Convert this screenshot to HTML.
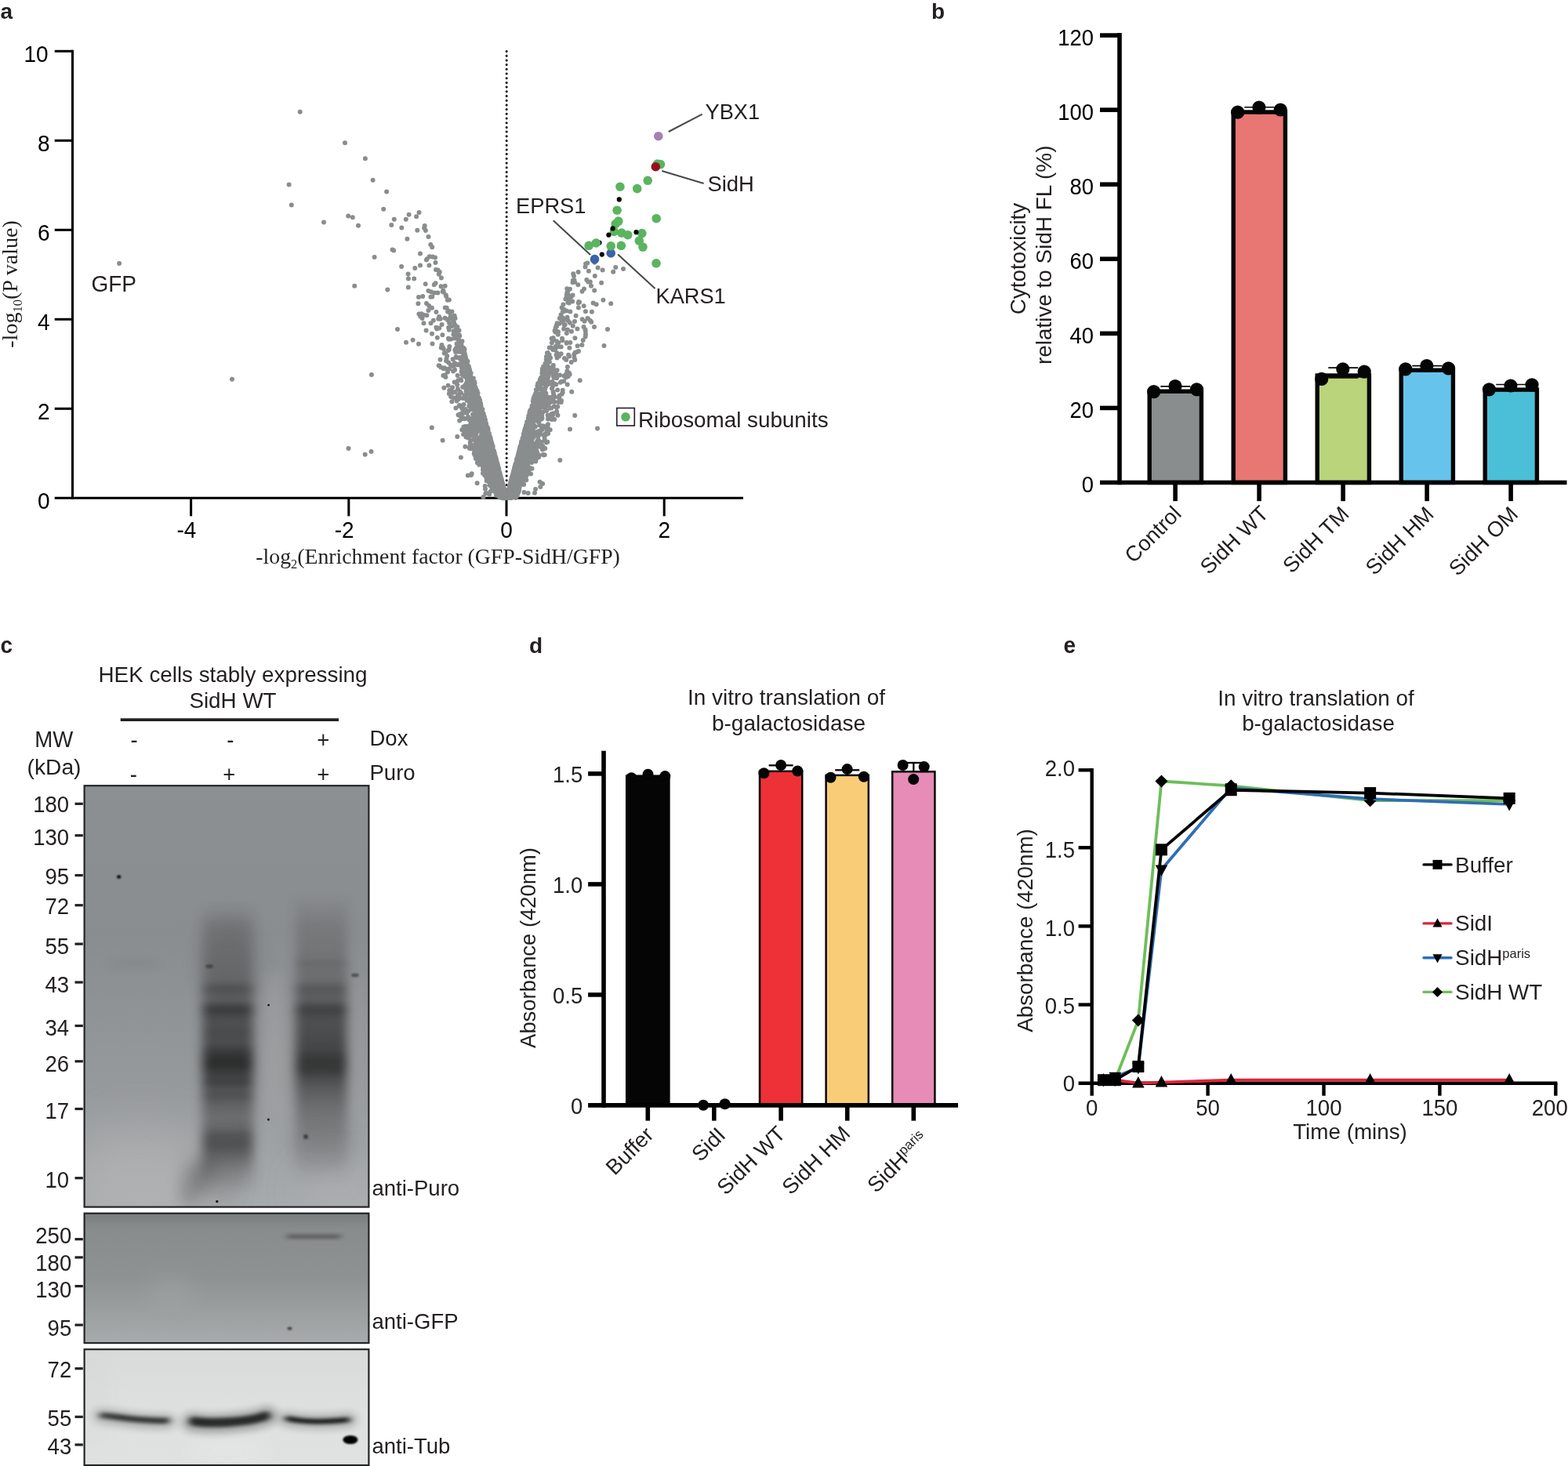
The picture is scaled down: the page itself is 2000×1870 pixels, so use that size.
<!DOCTYPE html>
<html lang="en"><head><meta charset="utf-8"><title>Figure</title>
<style>html,body{margin:0;padding:0;background:#fff}body{width:2000px;height:1870px;overflow:hidden}svg{display:block}text{font-family:"Liberation Sans", sans-serif;fill:#231f20}.sf{font-family:"Liberation Serif", serif}.b{font-weight:bold}.k{fill:#000}</style>
</head><body>
<svg width="2000" height="1870" viewBox="0 0 2000 1870">
<defs><linearGradient id="ln2" gradientUnits="userSpaceOnUse" x1="0" y1="1150" x2="0" y2="1520"><stop offset="0.0000" stop-color="#1b1b1b" stop-opacity="0.000"/><stop offset="0.0432" stop-color="#1b1b1b" stop-opacity="0.055"/><stop offset="0.0811" stop-color="#1b1b1b" stop-opacity="0.149"/><stop offset="0.1892" stop-color="#1b1b1b" stop-opacity="0.213"/><stop offset="0.2703" stop-color="#1b1b1b" stop-opacity="0.276"/><stop offset="0.2919" stop-color="#1b1b1b" stop-opacity="0.430"/><stop offset="0.3027" stop-color="#1b1b1b" stop-opacity="0.482"/><stop offset="0.3189" stop-color="#1b1b1b" stop-opacity="0.416"/><stop offset="0.3405" stop-color="#1b1b1b" stop-opacity="0.402"/><stop offset="0.3622" stop-color="#1b1b1b" stop-opacity="0.653"/><stop offset="0.3757" stop-color="#1b1b1b" stop-opacity="0.720"/><stop offset="0.3919" stop-color="#1b1b1b" stop-opacity="0.622"/><stop offset="0.4135" stop-color="#1b1b1b" stop-opacity="0.558"/><stop offset="0.4514" stop-color="#1b1b1b" stop-opacity="0.610"/><stop offset="0.4865" stop-color="#1b1b1b" stop-opacity="0.588"/><stop offset="0.5189" stop-color="#1b1b1b" stop-opacity="0.759"/><stop offset="0.5405" stop-color="#1b1b1b" stop-opacity="0.832"/><stop offset="0.5622" stop-color="#1b1b1b" stop-opacity="0.857"/><stop offset="0.5838" stop-color="#1b1b1b" stop-opacity="0.762"/><stop offset="0.6054" stop-color="#1b1b1b" stop-opacity="0.684"/><stop offset="0.6243" stop-color="#1b1b1b" stop-opacity="0.701"/><stop offset="0.6459" stop-color="#1b1b1b" stop-opacity="0.563"/><stop offset="0.6703" stop-color="#1b1b1b" stop-opacity="0.582"/><stop offset="0.6973" stop-color="#1b1b1b" stop-opacity="0.455"/><stop offset="0.7432" stop-color="#1b1b1b" stop-opacity="0.365"/><stop offset="0.7784" stop-color="#1b1b1b" stop-opacity="0.431"/><stop offset="0.8054" stop-color="#1b1b1b" stop-opacity="0.570"/><stop offset="0.8378" stop-color="#1b1b1b" stop-opacity="0.589"/><stop offset="0.8649" stop-color="#1b1b1b" stop-opacity="0.483"/><stop offset="0.8919" stop-color="#1b1b1b" stop-opacity="0.342"/><stop offset="0.9243" stop-color="#1b1b1b" stop-opacity="0.184"/><stop offset="0.9595" stop-color="#1b1b1b" stop-opacity="0.065"/><stop offset="1.0000" stop-color="#1b1b1b" stop-opacity="0.000"/></linearGradient><linearGradient id="ln3" gradientUnits="userSpaceOnUse" x1="0" y1="1140" x2="0" y2="1515"><stop offset="0.0000" stop-color="#1b1b1b" stop-opacity="0.000"/><stop offset="0.0480" stop-color="#1b1b1b" stop-opacity="0.074"/><stop offset="0.1067" stop-color="#1b1b1b" stop-opacity="0.158"/><stop offset="0.2000" stop-color="#1b1b1b" stop-opacity="0.219"/><stop offset="0.2293" stop-color="#1b1b1b" stop-opacity="0.275"/><stop offset="0.2373" stop-color="#1b1b1b" stop-opacity="0.362"/><stop offset="0.2453" stop-color="#1b1b1b" stop-opacity="0.278"/><stop offset="0.2933" stop-color="#1b1b1b" stop-opacity="0.301"/><stop offset="0.3147" stop-color="#1b1b1b" stop-opacity="0.439"/><stop offset="0.3253" stop-color="#1b1b1b" stop-opacity="0.490"/><stop offset="0.3413" stop-color="#1b1b1b" stop-opacity="0.442"/><stop offset="0.3627" stop-color="#1b1b1b" stop-opacity="0.444"/><stop offset="0.3840" stop-color="#1b1b1b" stop-opacity="0.628"/><stop offset="0.3973" stop-color="#1b1b1b" stop-opacity="0.695"/><stop offset="0.4133" stop-color="#1b1b1b" stop-opacity="0.614"/><stop offset="0.4400" stop-color="#1b1b1b" stop-opacity="0.567"/><stop offset="0.4800" stop-color="#1b1b1b" stop-opacity="0.603"/><stop offset="0.5280" stop-color="#1b1b1b" stop-opacity="0.654"/><stop offset="0.5547" stop-color="#1b1b1b" stop-opacity="0.752"/><stop offset="0.5760" stop-color="#1b1b1b" stop-opacity="0.785"/><stop offset="0.6027" stop-color="#1b1b1b" stop-opacity="0.754"/><stop offset="0.6293" stop-color="#1b1b1b" stop-opacity="0.606"/><stop offset="0.6667" stop-color="#1b1b1b" stop-opacity="0.486"/><stop offset="0.7067" stop-color="#1b1b1b" stop-opacity="0.400"/><stop offset="0.7467" stop-color="#1b1b1b" stop-opacity="0.316"/><stop offset="0.8000" stop-color="#1b1b1b" stop-opacity="0.223"/><stop offset="0.8533" stop-color="#1b1b1b" stop-opacity="0.148"/><stop offset="0.9067" stop-color="#1b1b1b" stop-opacity="0.082"/><stop offset="0.9600" stop-color="#1b1b1b" stop-opacity="0.018"/><stop offset="1.0000" stop-color="#1b1b1b" stop-opacity="0.000"/></linearGradient>
<linearGradient id="bg1" x1="0" y1="0" x2="0" y2="1">
<stop offset="0" stop-color="#8d9092"/><stop offset="0.35" stop-color="#8a8d8f"/><stop offset="0.7" stop-color="#96999b"/><stop offset="1" stop-color="#a8abad"/>
</linearGradient>
<linearGradient id="bg2" x1="0" y1="0" x2="0" y2="1">
<stop offset="0" stop-color="#868a8b"/><stop offset="0.5" stop-color="#8e9293"/><stop offset="1" stop-color="#a8abac"/>
</linearGradient>
<linearGradient id="bg3" x1="0" y1="0" x2="0" y2="1">
<stop offset="0" stop-color="#d9dbdb"/><stop offset="0.6" stop-color="#dfe1e1"/><stop offset="1" stop-color="#e0e2e2"/>
</linearGradient>
<clipPath id="c1"><rect x="107.6" y="1002.2" width="362.8" height="537.4"/></clipPath>
<clipPath id="c2"><rect x="107.6" y="1547.7" width="362.8" height="165.4"/></clipPath>
<clipPath id="c3"><rect x="107.6" y="1721.2" width="362.8" height="147.8"/></clipPath>
<filter color-interpolation-filters="sRGB" id="bl14" filterUnits="userSpaceOnUse" x="60" y="960" width="460" height="910"><feGaussianBlur stdDeviation="14"/></filter>
<filter color-interpolation-filters="sRGB" id="bl9" filterUnits="userSpaceOnUse" x="60" y="960" width="460" height="910"><feGaussianBlur stdDeviation="9 7"/></filter>
<filter color-interpolation-filters="sRGB" id="bl5" filterUnits="userSpaceOnUse" x="60" y="960" width="460" height="910"><feGaussianBlur stdDeviation="6 4"/></filter>
<filter color-interpolation-filters="sRGB" id="bl3" filterUnits="userSpaceOnUse" x="60" y="960" width="460" height="910"><feGaussianBlur stdDeviation="4 2.2"/></filter>
<filter color-interpolation-filters="sRGB" id="lane" filterUnits="userSpaceOnUse" x="60" y="960" width="460" height="910"><feGaussianBlur stdDeviation="7 2.5"/></filter>
<filter color-interpolation-filters="sRGB" id="bl1" filterUnits="userSpaceOnUse" x="60" y="960" width="460" height="910"><feGaussianBlur stdDeviation="1.2"/></filter>
<filter color-interpolation-filters="sRGB" id="bl30" filterUnits="userSpaceOnUse" x="60" y="960" width="460" height="910"><feGaussianBlur stdDeviation="30"/></filter>
</defs>
<rect width="2000" height="1870" fill="#fff"/>
<g id="pa">
<line x1="646.15" y1="65.5" x2="646.15" y2="634" stroke="#000" stroke-width="3" stroke-linecap="round" stroke-dasharray="0 5.7"/>
<line x1="92.5" y1="63.8" x2="92.5" y2="636.8" stroke="#000" stroke-width="3.05"/>
<line x1="69.7" y1="635.3" x2="948" y2="635.3" stroke="#000" stroke-width="3.05"/>
<text transform="translate(63.6 648.5) scale(1 1.05)" font-size="28" text-anchor="end" class="k">0</text>
<line x1="69.7" y1="521.3" x2="92.5" y2="521.3" stroke="#000" stroke-width="3.05"/>
<text transform="translate(63.6 534.5) scale(1 1.05)" font-size="28" text-anchor="end" class="k">2</text>
<line x1="69.7" y1="407.3" x2="92.5" y2="407.3" stroke="#000" stroke-width="3.05"/>
<text transform="translate(63.6 420.5) scale(1 1.05)" font-size="28" text-anchor="end" class="k">4</text>
<line x1="69.7" y1="293.3" x2="92.5" y2="293.3" stroke="#000" stroke-width="3.05"/>
<text transform="translate(63.6 306.5) scale(1 1.05)" font-size="28" text-anchor="end" class="k">6</text>
<line x1="69.7" y1="179.3" x2="92.5" y2="179.3" stroke="#000" stroke-width="3.05"/>
<text transform="translate(63.6 192.5) scale(1 1.05)" font-size="28" text-anchor="end" class="k">8</text>
<line x1="69.7" y1="65.3" x2="92.5" y2="65.3" stroke="#000" stroke-width="3.05"/>
<text transform="translate(61.6 78.5) scale(1 1.05)" font-size="28" text-anchor="end" class="k">10</text>
<line x1="243.6" y1="635.3" x2="243.6" y2="658.4" stroke="#000" stroke-width="3.05"/>
<text transform="translate(237.9 685.6) scale(1 1.05)" font-size="28" text-anchor="middle" class="k">-4</text>
<line x1="444.8" y1="635.3" x2="444.8" y2="658.4" stroke="#000" stroke-width="3.05"/>
<text transform="translate(439.1 685.6) scale(1 1.05)" font-size="28" text-anchor="middle" class="k">-2</text>
<line x1="646" y1="635.3" x2="646" y2="658.4" stroke="#000" stroke-width="3.05"/>
<text transform="translate(646 685.6) scale(1 1.05)" font-size="28" text-anchor="middle" class="k">0</text>
<line x1="847.2" y1="635.3" x2="847.2" y2="658.4" stroke="#000" stroke-width="3.05"/>
<text transform="translate(847.2 685.6) scale(1 1.05)" font-size="28" text-anchor="middle" class="k">2</text>
<path d="M627.2 585.8h0M632.0 610.5h0M659.2 595.8h0M723.9 468.1h0M633.1 605.9h0M635.3 601.7h0M551.5 438.6h0M635.4 620.2h0M648.4 632.5h0M627.5 603.9h0M644.1 629.7h0M662.1 596.4h0M627.2 598.7h0M662.5 584.9h0M654.0 613.0h0M670.5 577.3h0M621.3 557.8h0M695.1 519.5h0M664.0 580.4h0M604.4 544.1h0M629.1 595.5h0M660.1 602.3h0M621.9 551.1h0M643.7 635.3h0M676.9 552.1h0M679.2 541.9h0M632.5 599.2h0M665.7 599.7h0M634.7 603.5h0M708.7 482.0h0M623.4 598.3h0M587.6 484.8h0M667.2 564.6h0M653.5 609.9h0M599.4 489.3h0M723.7 490.6h0M643.7 626.5h0M683.9 507.3h0M661.3 581.5h0M634.4 618.6h0M703.9 437.2h0M714.9 487.7h0M651.3 620.3h0M672.7 567.3h0M629.1 583.6h0M669.1 554.7h0M655.1 626.8h0M600.7 475.9h0M678.3 559.8h0M632.3 606.6h0M624.5 563.2h0M636.1 601.6h0M715.7 442.5h0M570.2 454.0h0M653.6 623.0h0M618.7 619.9h0M662.0 606.6h0M641.7 621.3h0M691.6 533.3h0M608.6 570.3h0M580.3 446.3h0M689.7 563.7h0M655.3 619.9h0M653.3 609.5h0M708.7 442.1h0M549.4 378.7h0M744.7 390.3h0M623.9 569.8h0M688.4 487.5h0M665.9 574.3h0M680.3 558.1h0M655.1 622.1h0M674.2 557.3h0M668.8 587.6h0M642.7 631.9h0M641.3 617.3h0M569.5 457.8h0M595.0 464.2h0M617.5 539.1h0M620.9 608.1h0M605.3 548.5h0M556.0 344.0h0M663.2 575.8h0M655.0 631.6h0M687.9 488.2h0M632.7 586.3h0M670.9 549.4h0M698.7 529.8h0M616.0 595.7h0M654.7 607.9h0M601.5 567.9h0M687.4 532.5h0M663.1 571.4h0M758.2 370.6h0M665.3 571.7h0M665.9 610.1h0M629.4 612.6h0M636.5 625.0h0M630.0 576.7h0M584.3 485.3h0M654.1 605.1h0M652.8 609.1h0M619.8 546.1h0M644.2 630.9h0M662.5 578.1h0M642.7 626.5h0M676.6 544.0h0M644.9 632.8h0M633.6 598.9h0M689.3 484.8h0M633.0 618.6h0M633.8 610.3h0M643.4 628.4h0M640.6 616.3h0M628.9 618.6h0M647.0 632.0h0M662.8 609.2h0M652.8 620.9h0M653.1 621.5h0M746.9 397.2h0M655.3 617.5h0M658.4 611.8h0M641.5 627.1h0M632.8 595.0h0M625.7 569.4h0M583.2 490.7h0M676.0 539.2h0M636.1 599.5h0M686.3 557.4h0M746.5 340.5h0M609.5 508.1h0M633.2 601.9h0M627.3 574.2h0M654.3 605.5h0M633.3 601.2h0M632.6 604.8h0M663.5 579.6h0M621.3 587.1h0M685.4 492.2h0M643.9 631.4h0M636.6 607.6h0M661.4 584.5h0M625.7 559.1h0M635.1 610.9h0M620.7 573.0h0M597.7 470.6h0M629.3 621.2h0M655.1 611.0h0M647.4 633.9h0M622.9 591.9h0M628.4 568.6h0M667.8 560.9h0M656.4 611.9h0M671.5 572.9h0M623.3 558.6h0M659.6 585.7h0M676.2 556.7h0M585.6 504.9h0M652.7 617.5h0M598.1 488.2h0M651.6 631.7h0M651.2 619.4h0M688.4 517.5h0M645.1 633.5h0M627.6 575.6h0M612.7 576.6h0M691.9 470.6h0M598.1 483.4h0M688.2 542.3h0M620.1 549.9h0M615.3 553.6h0M682.4 504.0h0M638.5 607.9h0M641.2 631.9h0M679.4 532.2h0M640.6 634.3h0M659.7 616.3h0M668.3 591.7h0M625.6 569.9h0M631.9 610.2h0M647.4 632.4h0M648.8 629.4h0M659.1 605.2h0M644.0 628.8h0M711.3 518.8h0M722.7 437.7h0M661.8 606.4h0M664.2 604.4h0M698.3 563.7h0M660.9 584.3h0M670.7 545.7h0M666.5 559.0h0M702.1 456.5h0M582.9 430.6h0M651.8 613.9h0M723.3 473.4h0M652.5 612.1h0M621.3 580.7h0M559.6 466.3h0M669.2 556.2h0M680.3 512.8h0M654.1 623.3h0M603.0 484.8h0M636.6 606.5h0M661.5 577.8h0M635.5 603.6h0M715.5 401.5h0M650.0 626.4h0M667.3 564.1h0M632.6 599.7h0M612.0 571.5h0M658.3 590.7h0M589.3 520.9h0M610.1 565.8h0M585.5 421.5h0M660.0 602.9h0M597.4 548.8h0M624.3 561.1h0M648.7 632.8h0M663.7 599.6h0M614.0 574.5h0M668.0 578.7h0M629.0 599.4h0M630.4 600.6h0M716.2 405.0h0M636.4 616.1h0M687.0 538.5h0M633.1 595.6h0M665.8 575.4h0M562.5 365.2h0M678.4 571.7h0M697.0 564.4h0M651.5 623.7h0M583.8 465.6h0M648.6 633.9h0M677.4 565.2h0M622.8 556.9h0M607.0 517.7h0M651.5 619.1h0M678.6 560.7h0M626.2 570.3h0M653.5 613.5h0M677.3 558.2h0M614.8 536.7h0M648.9 625.3h0M658.1 616.6h0M675.5 528.0h0M692.0 496.3h0M627.3 565.2h0M620.4 594.2h0M655.5 607.6h0M644.2 630.3h0M613.8 540.5h0M637.2 608.1h0M689.9 483.5h0M653.3 625.3h0M641.6 626.1h0M600.1 572.3h0M633.1 607.2h0M634.8 599.3h0M653.9 625.6h0M641.9 629.1h0M670.5 549.5h0M642.9 632.0h0M658.2 614.4h0M682.0 628.7h0M685.1 521.3h0M598.3 479.2h0M659.9 611.4h0M660.7 606.8h0M599.2 472.2h0M655.8 603.0h0M647.0 632.9h0M678.3 560.5h0M604.7 546.3h0M656.9 600.0h0M598.8 471.1h0M619.2 560.2h0M642.2 630.6h0M659.0 597.1h0M647.2 633.7h0M676.4 551.8h0M633.6 607.6h0M720.7 414.2h0M664.1 587.4h0M652.2 622.4h0M571.1 408.3h0M641.1 616.6h0M678.8 573.4h0M643.9 631.3h0M655.4 629.2h0M655.4 630.1h0M658.4 611.8h0M663.0 585.9h0M717.8 410.7h0M626.2 572.6h0M633.5 613.6h0M653.7 616.6h0M634.5 604.0h0M651.0 622.8h0M658.8 592.4h0M638.9 610.8h0M635.3 608.2h0M566.7 450.5h0M634.1 600.3h0M614.8 529.6h0M642.7 635.2h0M649.4 630.9h0M635.7 629.8h0M668.4 556.6h0M612.3 560.2h0M702.5 489.0h0M640.0 628.1h0M665.7 565.6h0M629.9 575.5h0M565.9 372.7h0M660.3 597.6h0M654.6 609.0h0M695.6 489.3h0M630.1 603.3h0M616.7 535.5h0M651.5 634.3h0M631.0 586.8h0M657.4 605.9h0M640.2 623.6h0M574.8 403.3h0M644.1 629.9h0M675.6 543.0h0M632.6 590.8h0M603.2 550.7h0M638.2 629.9h0M591.2 443.8h0M678.1 534.7h0M663.3 583.3h0M660.3 582.5h0M647.9 633.5h0M632.4 583.9h0M623.4 572.9h0M609.2 519.1h0M607.8 502.8h0M654.3 617.6h0M673.2 553.4h0M636.0 613.6h0M639.4 615.5h0M675.8 580.7h0M680.8 511.8h0M624.1 594.6h0M606.9 502.6h0M708.1 445.9h0M642.2 628.8h0M634.4 593.2h0M661.4 614.6h0M651.8 619.9h0M596.1 548.2h0M652.5 617.3h0M684.6 497.9h0M587.5 465.8h0M622.7 570.9h0M629.8 589.7h0M656.8 614.3h0M622.2 587.0h0M653.4 610.2h0M719.2 486.2h0M653.5 608.1h0M660.4 623.3h0M635.5 609.9h0M726.4 443.7h0M642.3 623.6h0M636.0 609.0h0M730.5 376.6h0M641.2 631.8h0M640.7 616.0h0M622.4 554.6h0M667.0 566.0h0M598.7 472.9h0M636.1 608.1h0M658.8 620.1h0M664.4 591.8h0M641.6 629.3h0M601.4 497.3h0M674.5 540.4h0M658.5 620.7h0M677.8 562.6h0M657.7 601.1h0M701.1 548.6h0M659.8 604.7h0M686.9 492.6h0M580.5 406.0h0M605.0 494.7h0M655.9 597.7h0M649.3 630.8h0M652.2 612.1h0M662.3 592.2h0M625.6 584.9h0M586.8 499.8h0M621.8 546.1h0M631.9 583.1h0M608.8 502.1h0M646.8 633.8h0M631.8 598.4h0M555.5 335.0h0M728.4 378.8h0M609.2 540.8h0M592.0 506.6h0M747.0 426.4h0M674.2 560.4h0M641.4 626.5h0M628.8 602.5h0M606.8 585.1h0M697.8 460.4h0M628.5 576.2h0M662.1 576.9h0M668.6 562.3h0M671.3 606.7h0M602.4 533.8h0M671.6 578.6h0M644.9 632.8h0M643.3 631.9h0M639.7 626.5h0M645.1 634.3h0M707.2 535.0h0M619.8 589.6h0M601.6 492.1h0M632.6 623.7h0M606.3 493.7h0M533.4 387.3h0M637.0 629.0h0M659.8 603.6h0M622.0 545.6h0M625.8 608.6h0M636.9 608.9h0M667.1 562.1h0M664.7 565.8h0M619.9 575.9h0M679.0 531.6h0M632.1 623.8h0M661.9 623.6h0M669.7 608.2h0M681.2 507.0h0M675.1 533.2h0M680.3 511.3h0M632.2 606.5h0M634.5 613.8h0M576.5 397.4h0M642.4 632.8h0M666.5 574.2h0M693.8 515.5h0M697.6 549.5h0M629.5 581.2h0M715.7 512.9h0M633.5 598.6h0M674.4 549.4h0M640.0 612.9h0M629.8 576.7h0M655.6 626.1h0M604.1 499.4h0M585.0 433.1h0M658.3 623.1h0M646.6 633.8h0M702.7 506.9h0M631.2 589.5h0M629.9 594.1h0M655.1 614.7h0M619.8 604.3h0M635.4 608.1h0M626.5 594.0h0M623.6 613.2h0M656.8 624.0h0M632.4 621.2h0M655.2 618.9h0M663.8 577.7h0M683.3 521.4h0M609.1 504.1h0M654.2 623.8h0M642.8 625.2h0M603.2 549.1h0M603.1 528.4h0M660.2 599.3h0M661.6 578.3h0M677.6 525.1h0M630.2 605.6h0M719.1 419.4h0M661.2 605.4h0M571.7 446.9h0M659.3 594.6h0M615.8 568.4h0M642.5 624.7h0M651.5 620.7h0M633.3 626.8h0M694.7 467.7h0M605.9 506.4h0M674.3 601.8h0M693.8 513.9h0M655.3 600.9h0M598.1 500.0h0M641.3 619.5h0M588.3 461.4h0M664.3 569.0h0M648.5 630.9h0M634.4 591.7h0M635.5 616.4h0M606.2 569.1h0M607.7 561.3h0M663.0 575.2h0M654.1 612.2h0M749.3 335.6h0M645.0 631.4h0M608.9 513.5h0M650.4 625.7h0M654.6 621.7h0M644.9 633.6h0M696.7 458.9h0M648.7 632.4h0M634.6 591.7h0M632.9 603.0h0M622.4 577.5h0M678.4 597.8h0M644.8 630.8h0M661.5 582.2h0M581.2 448.9h0M639.7 631.9h0M723.3 373.3h0M641.4 623.1h0M613.3 517.4h0M651.9 633.1h0M629.0 578.4h0M621.7 550.0h0M643.1 631.8h0M632.9 589.6h0M680.4 510.9h0M624.7 616.9h0M615.9 537.0h0M672.3 541.5h0M663.9 580.1h0M682.3 508.9h0M677.6 527.9h0M647.4 633.2h0M607.5 511.5h0M723.0 382.0h0M597.1 531.7h0M617.8 590.7h0M692.4 512.9h0M630.5 595.6h0M651.6 621.3h0M661.9 590.3h0M663.0 593.6h0M684.3 510.3h0M652.0 620.3h0M631.2 593.4h0M663.3 597.2h0M652.6 629.1h0M671.6 543.8h0M641.3 625.9h0M669.4 561.3h0M637.4 603.5h0M633.0 592.3h0M648.1 634.4h0M584.6 429.9h0M591.8 474.2h0M605.8 500.4h0M684.7 580.3h0M687.6 537.5h0M654.3 628.7h0M699.0 541.2h0M649.3 629.2h0M637.8 607.5h0M722.9 437.1h0M591.3 476.2h0M651.1 615.8h0M604.7 555.5h0M667.6 617.1h0M569.8 392.8h0M681.2 554.4h0M660.7 614.2h0M676.3 525.6h0M664.0 587.2h0M629.9 579.9h0M630.0 595.1h0M588.6 473.9h0M623.8 554.2h0M596.9 544.0h0M641.7 626.7h0M629.8 582.7h0M622.2 567.3h0M559.8 349.7h0M675.5 570.1h0M737.9 392.4h0M641.4 622.9h0M536.0 323.5h0M632.7 584.8h0M630.7 605.3h0M658.8 633.2h0M653.5 607.5h0M627.5 568.2h0M670.1 585.7h0M655.9 597.4h0M665.0 563.8h0M641.7 629.3h0M572.5 407.1h0M638.4 630.7h0M705.6 431.0h0M591.0 533.2h0M618.0 557.5h0M620.0 557.8h0M616.6 541.4h0M616.0 603.7h0M630.9 627.1h0M633.2 611.4h0M637.1 611.1h0M659.4 586.5h0M635.3 598.6h0M635.3 618.6h0M638.6 619.3h0M623.4 561.4h0M624.5 560.6h0M659.0 628.6h0M629.4 589.9h0M690.0 549.2h0M658.8 621.7h0M624.4 567.9h0M635.4 598.2h0M613.6 571.3h0M677.6 528.1h0M639.2 612.2h0M650.8 627.2h0M619.2 599.0h0M620.1 541.6h0M639.1 629.8h0M760.7 388.3h0M668.9 609.0h0M625.0 601.4h0M681.3 509.5h0M636.2 618.8h0M630.2 617.7h0M609.7 532.5h0M646.3 634.8h0M652.1 612.5h0M664.6 605.0h0M623.0 554.7h0M660.0 622.6h0M634.0 626.7h0M650.5 621.1h0M619.7 552.3h0M627.7 602.4h0M629.5 591.3h0M694.3 519.1h0M665.9 566.9h0M638.7 614.8h0M663.4 603.2h0M668.8 575.0h0M614.5 581.1h0M614.2 562.8h0M626.6 577.2h0M610.8 536.3h0M631.4 589.3h0M623.0 602.6h0M620.0 539.9h0M653.2 623.6h0M643.0 625.6h0M677.1 573.3h0M643.9 631.4h0M662.1 586.7h0M696.9 455.0h0M650.4 630.2h0M632.5 596.1h0M641.0 624.6h0M678.6 520.7h0M665.5 563.7h0M638.7 623.6h0M618.3 534.1h0M604.5 513.4h0M686.6 493.9h0M726.9 368.8h0M678.5 518.3h0M597.2 492.7h0M654.4 612.5h0M648.5 629.8h0M623.4 608.7h0M638.2 608.4h0M651.3 634.6h0M687.1 527.2h0M728.7 462.1h0M651.7 625.1h0M620.4 547.4h0M649.4 624.3h0M600.1 503.0h0M629.0 600.1h0M648.0 635.3h0M640.5 631.4h0M634.4 591.6h0M639.7 614.2h0M642.3 630.5h0M654.5 626.3h0M657.7 611.5h0M711.2 439.3h0M677.0 581.7h0M647.5 632.2h0M651.6 626.7h0M683.1 533.2h0M641.4 632.6h0M642.2 625.4h0M579.9 462.9h0M630.6 577.5h0M655.5 624.3h0M651.3 623.7h0M638.3 628.1h0M640.5 615.8h0M601.5 485.1h0M647.5 629.9h0M670.7 556.0h0M633.7 627.5h0M644.0 628.9h0M621.2 563.5h0M693.3 513.4h0M615.8 535.9h0M677.9 524.8h0M638.4 623.6h0M674.4 567.6h0M647.1 635.0h0M657.3 594.7h0M648.3 632.5h0M663.7 570.0h0M617.5 531.0h0M622.1 556.1h0M672.7 562.8h0M637.5 619.2h0M650.8 630.8h0M611.0 512.1h0M662.3 573.9h0M636.6 621.4h0M737.6 347.1h0M598.4 549.6h0M610.3 562.2h0M677.8 551.5h0M642.6 628.1h0M628.0 612.5h0M603.8 502.5h0M641.4 621.4h0M638.3 607.7h0M649.6 622.0h0M663.3 585.4h0M622.9 579.9h0M647.3 634.1h0M709.0 476.4h0M650.3 623.9h0M643.1 630.2h0M637.1 602.4h0M652.6 635.0h0M614.3 545.1h0M659.4 589.3h0M653.4 634.3h0M658.8 612.2h0M623.9 562.2h0M650.3 628.7h0M664.4 578.0h0M641.9 620.9h0M669.7 558.6h0M606.0 519.5h0M671.6 597.3h0M594.5 499.5h0M653.0 612.4h0M667.0 566.9h0M619.6 543.2h0M667.9 560.3h0M554.2 373.6h0M536.0 338.6h0M620.6 568.5h0M636.8 606.8h0M658.1 599.3h0M601.0 535.6h0M708.9 417.6h0M646.6 634.5h0M652.5 631.9h0M617.8 531.4h0M561.5 458.7h0M657.8 596.3h0M653.1 614.0h0M658.2 595.2h0M617.3 546.7h0M618.0 590.0h0M652.0 617.5h0M655.5 619.4h0M531.1 276.2h0M639.5 629.6h0M612.3 525.4h0M644.7 631.8h0M634.7 627.2h0M614.0 573.5h0M658.6 599.6h0M605.7 516.0h0M694.0 497.4h0M543.6 421.5h0M635.7 615.0h0M682.8 527.9h0M654.0 626.6h0M647.0 632.7h0M657.8 606.7h0M652.4 624.6h0M683.1 623.9h0M691.4 518.9h0M688.4 549.4h0M687.8 522.4h0M673.2 584.7h0M594.6 478.6h0M611.5 526.0h0M603.9 502.1h0M655.4 611.9h0M608.4 529.9h0M667.8 564.5h0M636.4 606.0h0M609.2 519.4h0M642.4 624.2h0M687.1 488.4h0M650.1 630.1h0M669.5 584.3h0M644.0 628.3h0M618.9 537.2h0M683.2 582.2h0M604.0 537.2h0M667.1 574.5h0M735.6 448.9h0M669.8 548.0h0M677.6 588.1h0M663.7 592.0h0M595.6 483.8h0M607.1 546.8h0M620.2 552.7h0M598.8 513.1h0M627.6 588.8h0M669.0 549.7h0M641.1 624.6h0M641.8 628.6h0M665.1 578.0h0M623.6 552.8h0M611.1 592.7h0M594.3 476.6h0M596.4 486.3h0M645.4 633.0h0M636.3 617.6h0M640.8 624.7h0M619.5 542.9h0M651.6 632.2h0M694.5 557.5h0M654.7 621.4h0M630.8 580.1h0M652.6 630.9h0M581.7 419.9h0M641.3 623.4h0M625.6 583.1h0M710.6 472.2h0M671.6 606.3h0M585.8 442.2h0M634.2 607.2h0M626.2 588.6h0M546.4 395.9h0M678.0 532.0h0M657.5 603.0h0M603.9 533.1h0M653.1 615.3h0M706.0 433.1h0M627.4 608.3h0M698.8 450.0h0M653.3 634.2h0M662.7 595.6h0M613.5 582.4h0M619.5 552.7h0M667.9 554.7h0M646.9 634.6h0M596.5 465.8h0M654.1 605.1h0M637.0 606.6h0M616.4 574.6h0M642.7 622.9h0M579.7 402.8h0M626.3 593.6h0M639.6 621.5h0M647.4 632.9h0M617.2 535.4h0M608.4 500.5h0M609.5 512.9h0M638.6 623.4h0M534.0 379.0h0M689.0 489.3h0M644.3 629.6h0M658.9 589.6h0M637.8 634.5h0M651.0 634.0h0M645.3 633.1h0M623.9 558.6h0M671.5 569.3h0M644.5 633.6h0M662.3 582.1h0M654.4 615.8h0M638.4 607.1h0M636.5 610.5h0M700.3 468.5h0M700.6 507.7h0M680.8 552.3h0M579.9 422.7h0M655.9 624.1h0M654.5 605.6h0M617.0 577.3h0M655.1 614.2h0M700.1 487.0h0M630.7 583.0h0M648.5 630.0h0M657.9 615.7h0M698.5 544.7h0M628.3 588.4h0M622.0 568.7h0M626.9 568.7h0M618.3 606.2h0M640.0 634.3h0M674.1 580.1h0M679.2 526.1h0M670.7 586.3h0M641.0 631.5h0M642.8 628.0h0M626.2 561.8h0M659.6 613.0h0M726.9 411.7h0M681.2 506.2h0M658.7 608.7h0M613.6 591.8h0M677.8 524.2h0M604.0 519.4h0M716.6 408.9h0M606.3 544.2h0M698.7 490.2h0M651.4 619.9h0M607.6 499.1h0M611.0 539.1h0M652.7 627.8h0M636.5 610.3h0M642.9 626.4h0M625.5 570.4h0M638.1 616.9h0M642.5 629.6h0M693.7 543.5h0M726.1 454.6h0M679.5 558.2h0M630.5 584.3h0M651.0 624.2h0M666.7 564.0h0M662.2 609.4h0M672.8 571.4h0M651.7 635.2h0M641.2 617.5h0M678.7 537.0h0M665.9 587.1h0M593.4 569.8h0M601.5 497.5h0M662.9 576.6h0M638.0 621.2h0M662.6 578.1h0M635.1 597.8h0M668.5 587.8h0M665.8 598.4h0M684.0 512.7h0M691.2 532.0h0M659.2 630.5h0M676.1 550.0h0M653.5 607.1h0M639.8 631.1h0M745.0 368.5h0M631.2 583.4h0M591.6 466.4h0M620.7 548.3h0M611.7 572.8h0M670.1 564.5h0M733.0 410.1h0M708.6 423.7h0M693.5 580.5h0M630.5 598.4h0M692.1 617.0h0M660.0 597.6h0M642.8 627.4h0M655.3 629.5h0M657.3 615.1h0M620.6 549.5h0M566.9 469.2h0M691.2 546.8h0M570.8 382.7h0M682.3 506.6h0M648.5 626.3h0M685.6 534.3h0M612.2 510.7h0M679.4 578.5h0M674.2 559.9h0M730.5 360.3h0M682.4 506.8h0M623.4 557.6h0M698.4 470.1h0M626.0 577.5h0M704.0 495.5h0M587.0 518.0h0M560.5 466.6h0M638.5 623.1h0M629.7 605.0h0M668.1 561.0h0M633.6 594.7h0M686.4 555.1h0M642.0 620.2h0M562.3 468.6h0M639.0 615.7h0M699.1 553.0h0M662.1 575.9h0M636.4 600.8h0M609.5 501.5h0M654.1 619.6h0M641.7 619.9h0M754.9 397.8h0M630.6 585.3h0M669.7 548.5h0M668.8 556.7h0M585.1 442.2h0M586.1 457.0h0M645.3 634.2h0M621.6 586.2h0M630.0 591.2h0M638.2 627.7h0M677.9 568.8h0M572.9 502.2h0M678.7 565.2h0M654.7 609.6h0M657.7 593.0h0M742.4 440.0h0M633.6 618.0h0M717.6 405.3h0M615.3 538.6h0M549.5 412.3h0M637.9 628.9h0M621.6 555.5h0M675.1 555.8h0M642.3 622.5h0M630.4 577.8h0M671.8 553.1h0M646.9 631.9h0M671.3 588.8h0M572.1 462.6h0M642.5 628.4h0M680.8 544.9h0M675.2 544.4h0M658.6 621.1h0M649.3 630.1h0M582.7 511.6h0M644.3 633.8h0M634.5 609.5h0M593.4 458.7h0M669.3 549.6h0M631.3 581.1h0M674.2 559.3h0M594.4 557.6h0M694.7 562.3h0M695.8 492.6h0M648.1 635.1h0M634.7 604.7h0M648.6 632.0h0M640.8 635.3h0M725.7 386.5h0M654.4 615.9h0M656.0 604.4h0M560.8 347.0h0M613.1 571.6h0M653.0 616.9h0M660.1 613.7h0M656.1 621.2h0M595.5 510.7h0M691.3 515.8h0M592.1 448.1h0M722.0 477.5h0M654.9 612.7h0M625.6 571.8h0M631.3 597.7h0M681.6 566.3h0M649.5 627.6h0M651.2 627.2h0M652.6 629.8h0M661.4 590.4h0M520.8 366.4h0M593.9 472.6h0M616.5 634.0h0M644.1 628.4h0M591.4 544.4h0M694.9 519.9h0M674.6 533.0h0M704.6 432.7h0M745.6 409.7h0M629.9 578.5h0M624.0 556.8h0M671.7 542.5h0M652.0 616.2h0M668.1 561.9h0M671.4 567.2h0M631.0 589.8h0M639.3 634.0h0M673.8 577.8h0M642.9 623.4h0M606.7 562.1h0M680.6 549.7h0M650.2 628.0h0M651.4 623.0h0M659.2 605.7h0M611.9 517.9h0M651.5 633.4h0M588.4 446.5h0M655.9 602.7h0M651.1 617.2h0M651.2 616.2h0M555.0 328.6h0M595.1 496.8h0M687.6 580.8h0M649.0 632.1h0M671.6 572.1h0M648.6 632.8h0M642.4 628.0h0M621.6 590.4h0M651.7 626.7h0M664.6 590.6h0M629.6 614.6h0M663.1 571.7h0M656.9 600.0h0M734.6 402.8h0M709.6 478.9h0M661.1 583.3h0M651.1 628.8h0M612.6 581.8h0M651.9 612.5h0M661.7 598.2h0M641.7 629.1h0M634.3 590.8h0M546.4 371.0h0M711.9 442.3h0M604.1 533.4h0M657.2 622.9h0M639.1 613.3h0M638.5 608.2h0M641.8 619.9h0M599.9 489.2h0M691.0 545.3h0M642.2 630.6h0M661.8 576.6h0M668.7 564.9h0M610.7 535.0h0M657.7 601.9h0M564.4 427.2h0M668.5 571.0h0M562.9 354.5h0M586.2 428.5h0M659.8 587.7h0M681.2 530.8h0M603.7 536.0h0M595.3 555.2h0M618.8 537.0h0M666.3 562.4h0M636.8 627.2h0M656.5 629.7h0M679.9 525.4h0M621.3 546.6h0M646.9 634.3h0M637.9 623.0h0M648.6 626.3h0M591.5 475.7h0M688.1 508.3h0M651.2 634.7h0M609.8 541.3h0M610.9 527.1h0M746.6 429.6h0M651.8 628.8h0M700.3 530.0h0M652.1 619.7h0M608.8 538.3h0M628.3 576.1h0M651.2 621.6h0M624.3 560.1h0M658.1 606.6h0M642.5 634.8h0M633.9 605.7h0M659.8 600.0h0M672.3 544.4h0M592.7 504.3h0M600.3 480.5h0M609.2 529.7h0M635.5 603.0h0M610.8 517.4h0M683.7 506.3h0M703.3 512.5h0M640.0 621.1h0M655.8 599.8h0M681.2 507.6h0M621.9 550.1h0M685.4 510.7h0M649.3 626.5h0M630.1 603.0h0M650.4 628.8h0M622.7 554.7h0M623.0 570.0h0M700.0 515.0h0M659.3 612.5h0M658.7 590.0h0M652.2 622.5h0M594.3 466.5h0M639.5 612.4h0M672.0 541.6h0M635.6 599.0h0M625.2 593.4h0M660.3 583.5h0M625.9 577.5h0M593.7 465.0h0M655.5 618.7h0M678.3 527.3h0M588.9 435.9h0M643.2 635.2h0M616.6 561.2h0M649.2 633.4h0M676.1 540.9h0M631.3 583.9h0M626.9 599.3h0M617.4 547.8h0M635.3 610.0h0M660.6 625.3h0M653.4 610.4h0M636.5 604.5h0M679.9 565.4h0M636.0 631.1h0M657.4 600.4h0M572.5 432.8h0M627.1 578.5h0M634.8 600.1h0M688.4 515.9h0M695.1 496.6h0M668.8 557.7h0M616.7 531.4h0M612.5 514.7h0M706.4 444.8h0M670.6 570.4h0M580.1 464.6h0M682.6 536.3h0M683.4 530.3h0M611.5 519.3h0M664.4 576.7h0M671.1 576.4h0M652.4 613.1h0M673.6 629.0h0M666.0 574.1h0M596.7 500.4h0M638.1 614.3h0M618.9 550.5h0M681.2 511.9h0M671.2 553.4h0M647.1 631.7h0M645.0 634.4h0M637.9 630.4h0M529.3 342.0h0M630.1 614.8h0M648.4 626.4h0M657.6 611.5h0M581.8 443.9h0M659.5 585.1h0M653.2 614.1h0M587.9 583.4h0M628.7 570.2h0M652.6 611.9h0M651.4 621.4h0M628.6 615.8h0M663.3 586.7h0M585.9 427.5h0M645.6 634.1h0M650.7 619.5h0M661.8 603.5h0M626.6 570.7h0M650.3 630.1h0M642.1 633.6h0M662.2 583.0h0M639.3 632.8h0M683.8 517.5h0M672.2 591.7h0M692.3 477.3h0M654.9 613.4h0M682.8 520.5h0M661.6 607.9h0M626.4 620.1h0M652.9 618.4h0M684.8 506.1h0M633.7 594.5h0M642.7 629.8h0M608.7 513.6h0M629.0 615.0h0M685.4 505.2h0M673.8 559.3h0M652.0 627.7h0M664.4 605.5h0M653.5 609.1h0M662.8 618.1h0M687.3 582.9h0M598.9 513.4h0M652.5 629.8h0M635.5 597.7h0M684.6 517.3h0M598.2 558.8h0M653.9 613.2h0M633.6 611.8h0M628.9 591.2h0M603.2 505.4h0M719.4 394.7h0M646.6 633.6h0M629.8 612.0h0M635.9 620.8h0M667.9 554.2h0M661.0 615.9h0M621.3 546.3h0M637.8 610.9h0M595.7 508.4h0M654.3 618.5h0M654.7 615.8h0M690.9 502.9h0M652.5 626.1h0M595.6 550.5h0M636.7 608.8h0M661.1 579.9h0M613.7 530.0h0M654.0 610.0h0M643.2 627.2h0M624.7 568.7h0M670.1 587.1h0M622.7 575.2h0M605.2 508.7h0M643.6 627.0h0M648.3 631.8h0M653.2 608.6h0M622.6 603.7h0M659.1 616.8h0M650.4 621.1h0M622.4 629.3h0M645.8 635.3h0M654.3 609.3h0M710.1 482.2h0M690.8 528.2h0M648.7 626.2h0M637.0 617.7h0M627.2 608.8h0M632.3 605.6h0M624.8 599.5h0M631.8 597.4h0M665.2 601.7h0M650.0 628.3h0M599.9 487.5h0M694.4 498.3h0M608.2 527.1h0M624.4 565.6h0M549.9 372.2h0M665.7 614.9h0M664.8 576.8h0M600.6 561.7h0M650.5 630.7h0M638.8 613.7h0M640.9 623.5h0M615.9 557.3h0M682.8 553.2h0M632.4 621.6h0M608.0 499.9h0M614.9 548.3h0M667.4 583.8h0M627.0 601.4h0M614.9 545.2h0M616.2 526.9h0M676.4 597.0h0M663.0 581.5h0M659.1 624.0h0M715.7 451.3h0M676.2 580.6h0M651.1 615.9h0M599.7 565.4h0M572.7 446.1h0M666.6 604.9h0M637.0 602.3h0M626.1 578.8h0M609.0 524.3h0M640.1 615.4h0M651.0 616.2h0M738.2 384.9h0M665.9 566.6h0M664.0 580.2h0M631.8 613.8h0M603.3 486.5h0M622.3 589.0h0M650.1 625.8h0M578.4 409.9h0M626.1 597.1h0M632.5 620.3h0M630.1 578.9h0M608.4 501.5h0M630.5 578.8h0M600.4 555.2h0M581.7 455.1h0M658.5 624.2h0M677.3 544.6h0M640.2 615.3h0M606.5 516.7h0M673.7 565.1h0M641.4 634.0h0M674.2 568.0h0M636.8 615.5h0M641.1 630.6h0M657.6 627.5h0M665.6 564.0h0M613.5 517.7h0M654.6 602.8h0M654.4 631.4h0M674.6 545.2h0M619.4 548.1h0M601.4 506.0h0M649.4 627.3h0M700.6 452.4h0M616.0 545.2h0M615.4 535.7h0M605.0 486.7h0M650.0 627.9h0M629.3 576.7h0M639.4 612.9h0M649.1 625.6h0M615.3 532.8h0M619.6 543.1h0M605.5 544.2h0M617.0 538.7h0M632.5 605.9h0M614.8 557.9h0M668.2 553.6h0M681.7 509.6h0M528.2 355.4h0M638.0 622.1h0M681.4 506.4h0M655.3 628.3h0M690.9 485.2h0M640.2 618.9h0M652.5 621.5h0M639.8 625.6h0M622.6 549.8h0M626.4 563.3h0M669.8 546.9h0M652.2 612.3h0M713.7 504.4h0M605.5 494.4h0M579.7 487.4h0M633.4 590.7h0M635.6 596.6h0M666.7 560.0h0M627.1 577.4h0M688.0 518.3h0M659.6 625.0h0M638.1 625.0h0M649.9 622.8h0M648.3 630.6h0M651.5 619.8h0M665.6 585.5h0M680.0 552.0h0M631.2 587.2h0M660.3 625.5h0M648.5 628.4h0M624.1 567.9h0M618.3 547.5h0M583.9 495.9h0M654.1 620.6h0M620.7 594.8h0M674.3 537.5h0M586.4 508.0h0M661.5 621.2h0M673.4 571.3h0M623.6 584.4h0M689.4 524.7h0M664.9 578.0h0M624.8 591.1h0M622.3 553.2h0M664.2 578.6h0M668.5 566.1h0M624.6 570.5h0M621.3 550.3h0M584.8 509.0h0M666.1 568.6h0M656.6 615.2h0M680.8 514.1h0M654.9 619.5h0M639.3 619.1h0M634.8 606.0h0M634.5 619.3h0M628.8 597.6h0M635.3 599.8h0M639.1 634.3h0M640.1 618.0h0M659.9 631.2h0M638.3 615.7h0M653.2 627.7h0M687.6 491.7h0M649.6 622.4h0M701.7 474.7h0M608.1 498.2h0M611.5 531.9h0M571.0 474.6h0M633.8 602.6h0M673.5 565.9h0M623.2 575.7h0M650.9 623.1h0M658.6 590.3h0M631.9 599.2h0M695.5 504.9h0M566.3 494.8h0M659.7 618.4h0M659.0 587.4h0M657.9 595.8h0M648.5 631.1h0M671.0 543.2h0M653.0 612.0h0M600.1 492.8h0M653.5 609.2h0M644.4 633.9h0M670.7 608.5h0M637.8 627.6h0M644.6 630.5h0M640.8 624.1h0M653.5 613.7h0M684.4 584.8h0M539.2 378.0h0M683.3 507.6h0M683.8 497.3h0M640.1 622.3h0M635.9 601.0h0M657.9 595.2h0M660.2 584.7h0M652.8 633.7h0M606.9 495.4h0M692.6 485.2h0M633.9 592.0h0M622.3 552.6h0M653.8 619.5h0M669.8 560.6h0M652.0 632.9h0M590.2 478.5h0M637.0 607.6h0M651.6 631.5h0M618.4 603.2h0M644.5 635.0h0M639.3 626.3h0M737.3 363.3h0M622.6 572.1h0M635.7 604.6h0M636.6 608.5h0M643.8 630.4h0M663.4 593.2h0M610.1 568.0h0M621.5 554.8h0M629.1 603.9h0M640.2 618.9h0M667.2 570.4h0M659.3 587.7h0M617.4 535.1h0M619.3 547.9h0M717.7 497.8h0M591.8 450.8h0M560.2 418.5h0M632.6 588.0h0M589.1 519.3h0M683.5 518.9h0M686.0 491.9h0M647.9 632.6h0M593.6 544.1h0M650.6 618.9h0M624.6 574.3h0M624.3 570.2h0M613.7 538.1h0M638.1 606.1h0M668.2 580.6h0M626.2 586.3h0M677.4 551.3h0M642.5 633.3h0M674.6 565.0h0M632.4 628.6h0M575.1 505.9h0M657.1 607.9h0M613.6 566.6h0M649.0 633.7h0M650.8 630.4h0M599.1 486.3h0M668.3 569.2h0M588.6 441.3h0M672.0 566.4h0M564.6 561.7h0M647.2 635.0h0M599.3 499.2h0M680.4 511.7h0M633.9 598.0h0M653.3 611.1h0M656.9 599.5h0M667.8 596.0h0M607.6 550.4h0M631.8 601.6h0M656.2 607.9h0M653.5 625.7h0M655.4 620.4h0M651.2 621.9h0M620.0 550.8h0M654.6 616.0h0M631.7 619.4h0M630.2 582.4h0M667.9 573.0h0M636.6 610.1h0M608.9 526.2h0M689.5 554.1h0M635.6 630.5h0M636.3 612.8h0M655.4 621.7h0M621.9 545.8h0M666.7 579.2h0M652.3 611.4h0M619.0 540.6h0M675.1 565.8h0M698.2 466.8h0M602.2 571.1h0M648.8 630.6h0M650.4 634.2h0M574.7 465.3h0M602.2 521.4h0M620.4 609.6h0M670.9 551.6h0M565.8 470.3h0M631.5 602.0h0M634.6 606.0h0M675.9 568.2h0M608.5 521.4h0M695.0 481.6h0M621.0 598.0h0M563.5 440.0h0M630.3 577.0h0M641.2 631.2h0M640.8 631.3h0M663.2 574.3h0M641.8 634.6h0M644.5 632.8h0M657.3 618.6h0M672.4 551.7h0M621.6 554.3h0M621.2 565.0h0M670.9 543.3h0M640.6 617.3h0M631.4 583.9h0M637.1 613.1h0M595.1 479.0h0M702.8 443.3h0M631.4 597.1h0M634.5 604.7h0M534.4 400.5h0M640.8 623.5h0M699.4 477.9h0M639.8 614.2h0M627.9 591.0h0M623.1 614.3h0M656.8 596.4h0M632.7 598.7h0M626.2 586.5h0M643.8 633.7h0M637.3 624.8h0M624.0 584.8h0M651.2 630.9h0M632.8 627.0h0M619.2 542.2h0M650.0 629.7h0M621.1 578.7h0M625.9 569.3h0M627.1 564.7h0M684.6 531.0h0M731.9 352.0h0M688.7 513.4h0M637.2 608.7h0M687.3 532.6h0M636.2 608.1h0M692.8 489.4h0M668.5 627.9h0M635.3 595.6h0M584.1 464.8h0M647.8 628.8h0M640.2 626.8h0M640.3 632.6h0M670.9 560.7h0M639.6 611.6h0M642.0 631.9h0M583.3 557.0h0M667.7 567.7h0M679.1 547.1h0M605.1 489.8h0M667.1 573.7h0M609.9 508.9h0M618.0 532.6h0M551.3 378.4h0M632.2 589.0h0M654.1 605.3h0M658.1 595.8h0M632.7 593.6h0M613.2 515.1h0M721.4 381.6h0M704.9 528.1h0M638.9 622.3h0M692.9 573.1h0M652.8 610.0h0M643.9 633.1h0M717.6 500.7h0M670.4 571.5h0M626.5 563.3h0M617.3 540.6h0M653.3 609.8h0M613.9 544.2h0M637.2 615.8h0M653.2 632.1h0M669.4 551.3h0M668.1 617.9h0M695.9 509.4h0M659.0 597.8h0M650.9 633.7h0M674.9 540.9h0M637.3 612.7h0M641.0 627.1h0M638.7 609.5h0M648.3 634.0h0M648.4 628.4h0M624.0 561.4h0M655.0 606.0h0M746.5 420.4h0M642.2 621.1h0M671.1 573.8h0M642.0 632.1h0M658.1 594.2h0M619.0 623.8h0M632.2 627.4h0M647.9 632.8h0M639.7 614.0h0M659.6 587.4h0M666.3 591.7h0M638.4 607.4h0M694.6 501.6h0M612.5 557.8h0M696.3 492.9h0M650.4 630.0h0M609.4 506.0h0M649.2 632.3h0M650.8 628.5h0M683.3 588.4h0M652.5 615.3h0M711.4 529.8h0M663.3 575.7h0M742.5 371.8h0M628.3 568.7h0M616.8 527.9h0M626.6 567.5h0M592.5 445.5h0M694.7 580.3h0M568.2 450.3h0M705.6 468.8h0M725.1 452.8h0M660.4 612.6h0M649.0 626.2h0M631.5 602.0h0M641.5 625.3h0M630.9 599.6h0M637.3 615.0h0M644.5 631.8h0M611.5 539.1h0M642.0 633.9h0M559.2 406.7h0M659.0 603.2h0M627.4 591.2h0M651.4 628.0h0M657.2 599.8h0M662.7 577.8h0M650.7 623.9h0M670.9 543.8h0M638.2 632.8h0M641.7 620.9h0M632.0 620.8h0M693.5 479.5h0M619.7 550.4h0M658.9 615.2h0M688.9 506.2h0M748.3 357.0h0M568.4 481.1h0M657.8 597.0h0M631.8 611.2h0M670.6 570.7h0M589.5 477.6h0M653.9 615.0h0M640.3 615.3h0M639.9 621.3h0M640.1 622.6h0M637.7 613.7h0M614.6 521.7h0M642.8 629.2h0M639.8 630.4h0M663.1 595.9h0M683.8 509.8h0M620.4 549.2h0M736.6 441.2h0M640.8 615.8h0M611.4 514.4h0M655.8 613.8h0M658.6 589.9h0M737.7 386.5h0M647.0 634.9h0M632.6 598.4h0M663.4 603.9h0M706.3 489.1h0M631.5 586.3h0M703.2 520.6h0M701.6 533.9h0M640.3 615.0h0M663.9 576.8h0M616.0 599.3h0M642.6 634.0h0M638.3 625.5h0M602.1 485.2h0M647.5 630.1h0M671.7 590.1h0M685.2 562.7h0M544.0 387.1h0M752.9 409.1h0M593.4 522.1h0M700.6 443.5h0M569.2 378.0h0M669.0 595.2h0M641.8 622.6h0M677.7 586.0h0M643.6 633.6h0M644.7 631.4h0M659.9 612.1h0M655.6 606.1h0M656.1 625.9h0M627.4 617.0h0M659.9 619.2h0M657.4 613.4h0M665.8 571.7h0M730.8 415.7h0M626.4 614.2h0M598.3 518.0h0M688.8 484.1h0M643.4 631.6h0M663.6 610.8h0M586.6 530.3h0M537.5 400.2h0M616.9 563.3h0M654.0 607.5h0M686.8 495.8h0M630.9 621.1h0M648.7 625.7h0M673.7 575.8h0M736.4 419.6h0M664.1 599.9h0M596.1 533.5h0M646.5 635.0h0M633.5 599.2h0M630.3 582.6h0M633.7 613.1h0M638.5 610.9h0M694.2 482.7h0M642.8 623.1h0M643.4 630.7h0M665.0 573.8h0M626.9 574.6h0M698.2 469.4h0M675.5 542.9h0M628.3 582.6h0M654.7 611.2h0M654.0 611.5h0M683.0 513.4h0M624.3 577.7h0M627.2 621.4h0M630.7 589.3h0M637.3 625.9h0M720.8 407.5h0M663.6 588.0h0M662.2 583.4h0M580.6 414.7h0M654.6 622.2h0M678.4 536.1h0M606.3 527.1h0M660.6 581.1h0M627.7 573.5h0M650.6 618.9h0M562.7 443.4h0M689.4 553.9h0M609.9 542.1h0M657.4 605.0h0M631.9 586.0h0M659.1 592.7h0M671.5 557.0h0M577.1 494.2h0M655.2 608.4h0M652.1 615.9h0M650.5 621.4h0M655.8 625.3h0M640.9 627.3h0M659.9 603.7h0M630.8 582.9h0M692.0 573.6h0M635.8 606.7h0M620.8 556.0h0M676.6 577.8h0M576.7 404.9h0M612.6 563.7h0M643.5 626.7h0M591.9 452.1h0M633.3 599.7h0M623.6 568.4h0M579.8 431.5h0M632.2 598.2h0M643.2 626.3h0M639.4 612.7h0M624.1 594.8h0M633.3 600.1h0M628.8 594.7h0M643.1 629.0h0M662.0 581.2h0M629.2 575.1h0M659.3 595.9h0M653.4 611.5h0M652.4 633.4h0M691.7 472.8h0M651.5 619.9h0M684.1 515.2h0M577.7 407.2h0M591.6 515.9h0M633.5 610.4h0M654.5 623.1h0M621.5 560.5h0M653.5 623.3h0M624.5 575.3h0M650.0 620.3h0M646.6 633.8h0M686.3 550.2h0M543.9 331.5h0M640.5 625.0h0M637.0 607.9h0M596.4 477.7h0M614.8 558.7h0M631.9 593.9h0M609.6 534.5h0M666.3 602.4h0M657.5 591.8h0M601.6 485.2h0M626.0 577.3h0M678.5 597.8h0M652.1 622.5h0M662.0 577.0h0M648.4 627.3h0M660.4 596.0h0M642.2 622.7h0M613.8 555.8h0M667.6 565.1h0M605.4 524.7h0M658.6 590.2h0M659.7 594.0h0M674.3 561.9h0M519.4 304.7h0M650.5 624.1h0M633.4 602.5h0M551.7 327.6h0M628.7 575.7h0M663.3 573.7h0M544.4 402.2h0M608.4 500.8h0M604.7 530.4h0M710.4 450.2h0M592.9 461.2h0M638.6 629.3h0M641.5 627.0h0M615.4 522.1h0M631.7 583.2h0M731.2 349.3h0M673.1 562.5h0M696.8 475.7h0M680.6 579.5h0M666.5 564.2h0M692.5 569.6h0M656.0 621.6h0M631.5 584.9h0M690.0 497.1h0M633.0 586.3h0M660.4 583.3h0M606.5 545.4h0M644.9 634.5h0M626.3 580.8h0M613.5 521.7h0M588.9 469.3h0M641.0 621.2h0M635.3 614.5h0M653.5 613.9h0M733.0 359.7h0M663.5 576.6h0M661.1 605.1h0M706.8 472.0h0M636.4 601.4h0M653.8 619.5h0M637.2 621.6h0M666.5 562.2h0M608.4 533.6h0M600.9 544.2h0M663.2 602.1h0M677.2 560.2h0M659.0 630.8h0M656.1 623.7h0M637.5 616.2h0M637.8 614.0h0M640.3 627.0h0M634.9 605.7h0M651.7 615.6h0M635.7 628.0h0M729.2 499.8h0M664.5 571.9h0M758.4 334.8h0M594.2 496.1h0M676.2 523.6h0M695.1 553.8h0M603.1 517.4h0M606.2 518.4h0M609.8 580.6h0M629.1 599.2h0M637.4 605.4h0M636.8 633.6h0M642.6 625.3h0M615.2 565.0h0M671.4 589.5h0M691.3 502.3h0M644.7 631.8h0M657.0 600.7h0M656.2 611.8h0M717.0 431.7h0M660.7 582.6h0M632.3 601.9h0M617.8 541.3h0M570.7 471.1h0M636.2 616.5h0M626.4 591.3h0M614.4 535.9h0M625.7 572.8h0M644.6 631.6h0M622.2 591.6h0M630.8 583.2h0M651.4 615.1h0M705.0 529.4h0M633.5 605.5h0M650.4 625.7h0M671.9 547.3h0M664.7 578.0h0M595.4 508.7h0M685.6 521.0h0M673.4 557.7h0M690.8 502.0h0M541.1 290.9h0M635.5 603.6h0M632.9 614.5h0M620.4 570.9h0M648.5 625.8h0M654.3 629.0h0M673.7 580.3h0M687.9 492.0h0M648.1 630.7h0M573.2 470.5h0M659.6 620.4h0M592.5 479.9h0M648.0 632.5h0M617.4 591.5h0M637.0 603.2h0M552.8 408.7h0M679.7 540.6h0M595.0 488.6h0M612.6 517.2h0M567.7 392.5h0M620.2 572.8h0M656.6 616.4h0M631.2 593.9h0M598.5 484.1h0M650.6 620.7h0M641.1 623.8h0M641.1 616.9h0M594.1 466.1h0M647.0 631.3h0M680.0 528.6h0M674.3 530.2h0M594.5 504.0h0M584.5 529.2h0M502.1 319.5h0M663.4 617.3h0M703.5 527.9h0M705.8 466.1h0M608.2 499.4h0M627.1 583.8h0M556.4 398.0h0M722.2 459.1h0M658.0 609.0h0M640.3 629.1h0M600.4 482.5h0M662.5 600.8h0M650.6 617.8h0M617.7 532.7h0M555.6 361.3h0M635.1 611.6h0M666.8 582.7h0M670.8 554.9h0M664.9 612.2h0M630.7 599.6h0M606.9 557.1h0M652.5 625.3h0M660.3 606.9h0M631.4 596.6h0M698.6 509.1h0M654.9 606.9h0M656.7 617.2h0M728.9 422.7h0M648.5 634.5h0M619.7 565.7h0M655.5 618.6h0M670.4 548.6h0M600.2 541.3h0M657.0 600.9h0M628.7 585.7h0M669.4 582.7h0M567.7 478.5h0M652.0 630.0h0M655.5 620.4h0M671.5 582.7h0M649.4 631.8h0M634.9 593.1h0M639.6 615.0h0M654.1 623.9h0M692.8 570.7h0M637.2 602.4h0M565.2 370.5h0M597.4 524.2h0M640.5 617.8h0M656.0 613.4h0M637.8 615.5h0M684.1 574.5h0M639.7 617.8h0M632.4 613.5h0M613.0 560.4h0M642.2 623.2h0M621.8 580.2h0M697.1 524.0h0M660.8 617.5h0M683.9 533.3h0M634.2 597.3h0M619.7 557.8h0M620.7 601.2h0M627.1 579.6h0M671.2 541.9h0M639.1 613.6h0M639.3 617.1h0M600.0 543.7h0M613.8 585.7h0M641.9 622.8h0M633.1 590.6h0M631.7 588.6h0M691.6 517.8h0M638.9 620.2h0M656.7 621.5h0M702.7 469.7h0M651.2 626.1h0M558.6 344.5h0M657.6 594.5h0M654.8 622.4h0M597.1 468.4h0M698.3 484.7h0M694.2 515.8h0M635.3 595.5h0M634.7 603.9h0M635.1 608.8h0M634.5 607.0h0M642.9 633.2h0M608.8 573.3h0M662.3 583.3h0M733.2 530.0h0M612.0 542.5h0M647.2 630.7h0M648.9 630.7h0M634.9 600.4h0M650.8 629.5h0M640.4 634.7h0M636.7 605.7h0M633.5 594.7h0M680.5 572.5h0M679.0 569.7h0M692.2 509.2h0M702.4 508.9h0M619.9 588.9h0M601.8 504.8h0M683.0 583.0h0M643.2 625.7h0M658.6 594.0h0M657.2 620.4h0M560.1 403.9h0M677.9 521.4h0M658.7 590.1h0M656.3 617.9h0M662.9 578.7h0M746.8 422.5h0M629.0 618.6h0M647.5 634.0h0M614.5 538.1h0M674.6 556.1h0M656.0 618.5h0M643.9 630.1h0M655.1 602.4h0M706.3 481.6h0M722.8 376.0h0M652.7 613.8h0M619.4 580.3h0M634.3 627.7h0M620.1 560.6h0M615.6 541.9h0M633.3 587.6h0M659.2 592.6h0M630.3 608.9h0M573.7 398.8h0M677.2 552.9h0M622.9 593.0h0M655.2 604.1h0M711.2 451.8h0M664.2 592.8h0M631.8 583.5h0M658.6 609.0h0M635.4 606.4h0M636.2 612.5h0M657.3 623.3h0M694.5 487.5h0M689.3 489.2h0M540.5 412.3h0M601.7 604.2h0M634.9 601.6h0M619.5 585.5h0M634.9 615.3h0M692.4 517.4h0M672.2 539.8h0M651.8 618.2h0M649.2 623.3h0M645.1 633.6h0M541.7 288.0h0M590.0 533.9h0M685.4 517.9h0M661.3 604.6h0M644.2 633.8h0M675.3 552.2h0M625.7 563.5h0M642.0 626.5h0M663.5 591.1h0M587.3 528.0h0M692.7 525.5h0M725.8 475.7h0M611.1 541.9h0M502.8 279.8h0M658.7 630.7h0M644.2 631.9h0M644.5 633.1h0M671.8 543.1h0M580.1 471.7h0M653.8 605.8h0M634.9 597.7h0M671.3 612.3h0M716.5 502.8h0M637.6 613.4h0M653.1 622.1h0M657.6 599.4h0M685.4 563.1h0M582.1 456.1h0M628.5 584.3h0M663.9 582.3h0M637.9 612.5h0M663.7 599.0h0M625.0 609.3h0M646.5 634.0h0M682.6 504.3h0M650.6 627.8h0M662.6 573.4h0M574.5 397.6h0M687.3 511.1h0M641.7 632.2h0M571.9 431.8h0M668.8 595.9h0M670.2 573.3h0M603.5 533.1h0M623.9 553.1h0M674.7 543.6h0M649.9 627.2h0M665.8 610.8h0M592.6 455.1h0M654.4 619.6h0M651.6 614.2h0M658.6 589.8h0M718.4 388.4h0M668.8 559.8h0M644.4 630.6h0M633.8 614.2h0M650.6 626.5h0M624.4 567.5h0M664.0 606.0h0M645.0 634.4h0M630.5 590.6h0M608.5 498.5h0M610.1 534.3h0M585.5 448.7h0M573.2 498.1h0M640.2 619.5h0M621.4 566.5h0M725.9 382.3h0M651.4 625.2h0M643.3 630.1h0M520.9 355.6h0M679.3 531.2h0M650.9 631.3h0M607.6 553.0h0M628.4 583.5h0M575.1 500.0h0M633.7 590.7h0M636.8 612.1h0M661.5 608.4h0M680.3 509.4h0M659.6 602.1h0M679.1 528.7h0M667.3 577.8h0M669.6 576.3h0M640.5 618.2h0M585.3 435.7h0M657.9 591.3h0M634.1 613.9h0M613.6 523.7h0M660.8 602.1h0M623.0 613.1h0M625.8 590.5h0M658.1 590.7h0M648.3 626.8h0M719.5 479.4h0M512.1 339.9h0M593.7 454.4h0M567.7 364.8h0M587.5 484.0h0M641.5 626.4h0M636.0 621.3h0M636.8 605.7h0M685.8 569.0h0M672.3 579.7h0M652.2 622.4h0M686.0 569.5h0M636.0 597.1h0M641.7 621.4h0M643.3 633.9h0M732.5 456.1h0M631.6 625.6h0M615.1 584.0h0M637.6 606.0h0M660.8 616.1h0M656.0 600.8h0M651.7 616.6h0M644.8 631.5h0M640.3 621.5h0M658.9 606.8h0M688.9 532.0h0M626.5 571.2h0M624.7 574.2h0M630.2 594.5h0M618.2 599.5h0M654.0 616.0h0M711.8 426.7h0M661.7 618.5h0M663.6 615.8h0M628.6 606.2h0M668.6 555.2h0M628.4 581.1h0M603.9 486.9h0M616.0 589.8h0M636.2 597.9h0M587.9 501.2h0M651.1 618.6h0M625.3 565.0h0M551.0 425.8h0M647.5 633.7h0M596.8 606.4h0M649.9 624.5h0M637.0 607.8h0M640.9 624.8h0M620.8 550.2h0M619.6 605.2h0M680.9 529.4h0M627.7 607.1h0M673.2 569.6h0M685.4 568.9h0M657.0 595.2h0M638.8 618.2h0M619.1 586.0h0M656.2 611.7h0M584.1 504.3h0M626.2 620.1h0M660.5 591.4h0M619.2 598.5h0M656.1 597.8h0M649.7 621.5h0M697.3 506.6h0M663.9 584.7h0M605.2 558.8h0M624.2 566.1h0M667.5 603.7h0M668.9 550.1h0M685.9 492.6h0M672.9 547.5h0M662.0 613.9h0M619.6 593.7h0M634.8 596.5h0M733.7 449.8h0M678.8 517.5h0M659.4 587.7h0M672.4 545.4h0M627.8 568.5h0M594.9 543.9h0M678.0 546.6h0M626.1 597.1h0M619.8 539.8h0M636.1 605.4h0M629.7 608.8h0M685.0 513.3h0M665.2 576.0h0M630.1 580.5h0M668.3 598.3h0M644.0 632.6h0M663.5 608.7h0M588.7 436.7h0M657.1 602.7h0M637.0 622.7h0M656.4 626.8h0M622.4 548.3h0M650.8 627.8h0M732.5 357.5h0M640.2 633.1h0M605.6 488.8h0M633.6 590.6h0M627.1 572.3h0M666.8 564.9h0M648.4 634.3h0M599.0 550.9h0M604.7 578.8h0M602.4 490.3h0M750.9 345.8h0M658.8 594.4h0M655.3 618.8h0M607.2 539.1h0M673.1 589.5h0M600.0 498.7h0M628.8 590.4h0M656.3 606.0h0M661.6 597.1h0M646.9 634.9h0M656.2 613.5h0M670.7 565.6h0M605.7 514.5h0M623.7 556.9h0M637.6 632.7h0M733.3 459.1h0M640.8 619.3h0M612.9 515.8h0M747.1 336.6h0M645.4 633.8h0M629.6 587.6h0M678.7 517.8h0M602.1 511.8h0M639.0 634.7h0M665.6 565.6h0M638.2 624.8h0M648.6 630.7h0M723.9 420.4h0M623.9 564.2h0M655.7 624.4h0M561.7 406.7h0M683.1 551.2h0M642.9 630.3h0M662.1 614.9h0M608.3 501.9h0M655.5 613.9h0M630.6 587.6h0M630.8 625.8h0M658.3 607.2h0M591.1 554.1h0M641.8 632.3h0M678.9 547.4h0M672.8 537.5h0M680.0 538.2h0M685.9 502.3h0M636.5 630.6h0M634.0 597.9h0M659.5 585.4h0M660.3 628.2h0M668.9 597.9h0M622.2 556.4h0M703.8 534.9h0M606.0 511.9h0M534.5 271.0h0M657.8 609.8h0M671.2 593.7h0M520.6 349.4h0M694.9 469.3h0M683.0 567.9h0M705.5 499.8h0M617.7 536.3h0M581.4 520.5h0M641.6 622.3h0M644.6 633.1h0M639.6 624.5h0M637.3 610.0h0M621.0 581.1h0M621.7 556.9h0M635.0 623.0h0M624.6 615.5h0M665.3 567.7h0M674.2 545.5h0M718.3 397.5h0M572.2 418.0h0M657.9 593.7h0M623.7 571.3h0M601.0 605.9h0M590.8 508.0h0M597.7 467.3h0M640.6 625.3h0M681.3 511.4h0M618.2 572.1h0M658.6 626.1h0M642.9 626.7h0M652.5 618.4h0M648.0 630.5h0M684.1 525.9h0M616.6 542.8h0M676.7 559.7h0M663.3 593.4h0M620.6 613.3h0M630.6 606.7h0M632.5 589.5h0M691.3 568.3h0M739.7 485.3h0M644.7 634.6h0M638.2 624.5h0M651.4 632.8h0M642.5 632.3h0M654.7 602.5h0M676.9 550.1h0M668.3 559.6h0M602.9 509.0h0M688.6 569.7h0M616.6 583.7h0M676.8 549.1h0M642.1 627.1h0M635.9 613.5h0M616.8 541.8h0M668.6 568.6h0M666.2 571.8h0M659.5 590.0h0M638.1 631.4h0M640.5 633.5h0M659.9 603.1h0M605.6 580.6h0M646.7 635.0h0M661.6 603.7h0M713.3 508.1h0M687.3 562.3h0M633.5 618.5h0M579.1 507.6h0M626.7 607.9h0M697.3 545.9h0M641.4 627.6h0M649.8 631.8h0M589.2 534.1h0M677.6 584.0h0M656.6 596.0h0M657.0 623.9h0M691.6 547.9h0M654.0 612.5h0M578.3 500.8h0M712.3 436.9h0M659.7 596.7h0M666.3 599.7h0M648.5 631.5h0M634.5 603.6h0M668.3 556.0h0M647.2 633.3h0M614.4 541.6h0M647.5 634.2h0M688.7 506.9h0M642.7 628.0h0M671.0 565.8h0M591.1 523.8h0M616.2 545.9h0M738.0 448.0h0M629.2 587.2h0M634.5 604.6h0M643.9 627.2h0M643.3 627.7h0M681.2 528.2h0M636.5 608.6h0M614.4 566.2h0M619.7 563.4h0M647.4 633.2h0M638.1 614.2h0M621.8 595.6h0M590.2 527.6h0M658.5 599.0h0M623.2 593.4h0M649.0 631.3h0M637.4 604.5h0M655.8 621.9h0M618.4 540.0h0M583.6 479.1h0M624.3 560.5h0M624.5 567.9h0M677.0 604.6h0M654.8 620.9h0M678.8 527.9h0M706.1 502.6h0M568.7 376.2h0M661.6 586.0h0M653.3 617.3h0M629.9 602.6h0M594.5 499.1h0M626.5 563.1h0M637.5 608.6h0M593.5 461.5h0M676.5 532.1h0M616.4 585.4h0M653.5 616.8h0M620.3 542.2h0M623.1 606.9h0M618.6 546.2h0M673.2 582.8h0M663.1 583.1h0M659.8 592.7h0M628.0 569.7h0M642.0 622.2h0M655.6 617.1h0M630.3 593.9h0M631.2 610.0h0M711.1 497.4h0M583.4 424.2h0M723.2 368.3h0M583.6 442.0h0M642.7 623.2h0M638.2 633.8h0M663.6 569.2h0M658.1 598.5h0M631.7 591.9h0M618.5 555.5h0M673.0 566.1h0M655.2 610.2h0M619.9 563.4h0M630.1 584.2h0M672.8 540.8h0M705.2 446.0h0M607.4 523.4h0M710.7 412.3h0M665.9 593.4h0M660.9 597.8h0M623.0 554.9h0M644.3 634.6h0M674.4 573.4h0M604.7 516.9h0M650.8 618.8h0M629.0 587.3h0M656.6 596.4h0M709.9 519.7h0M657.2 609.2h0M641.6 630.7h0M678.5 546.0h0M621.4 564.0h0M628.9 602.5h0M650.4 630.2h0M649.0 628.0h0M700.9 461.7h0M645.0 634.0h0M651.8 615.8h0M651.2 626.2h0M649.8 630.8h0M674.9 567.7h0M631.2 619.1h0M544.7 330.3h0M603.2 508.2h0M686.1 489.3h0M620.8 587.8h0M640.4 618.1h0M675.4 526.8h0M652.7 615.2h0M635.3 610.3h0M667.6 573.4h0M591.4 450.6h0M500.5 318.5h0M727.3 437.0h0M621.9 585.5h0M551.2 315.3h0M649.5 622.6h0M678.5 518.2h0M653.1 616.4h0M547.8 327.2h0M573.1 412.1h0M637.9 608.7h0M644.4 631.3h0M676.0 532.8h0M636.1 605.3h0M625.3 601.7h0M707.5 421.9h0M622.9 555.1h0M639.8 625.5h0M630.4 624.1h0M677.7 522.8h0M617.8 548.6h0M622.0 578.4h0M608.8 539.3h0M656.9 596.0h0M619.3 567.4h0M617.8 534.8h0M585.6 517.7h0M608.6 616.3h0M599.4 493.3h0M567.6 405.7h0M663.0 575.2h0M609.7 527.1h0M630.0 582.1h0M630.0 574.9h0M608.9 525.3h0M672.1 538.2h0M611.0 511.5h0M642.8 623.8h0M642.0 628.9h0M628.9 602.6h0M635.1 621.4h0M575.6 499.3h0M637.6 624.9h0M620.4 570.1h0M617.1 551.2h0M637.1 632.4h0M640.4 619.5h0M605.6 550.1h0M619.3 629.6h0M669.3 605.0h0M673.2 602.5h0M623.4 587.1h0M649.0 632.4h0M639.3 612.8h0M642.7 632.5h0M648.6 634.7h0M615.3 556.0h0M631.4 618.0h0M589.3 548.3h0M666.7 564.4h0M669.6 547.0h0M612.7 521.0h0M670.2 575.6h0M696.1 515.9h0M639.5 622.0h0M637.4 603.6h0M634.5 605.8h0M633.8 594.1h0M689.4 486.7h0M583.4 417.1h0M673.9 566.3h0M627.6 583.4h0M601.2 534.7h0M649.4 633.1h0M635.9 597.4h0M624.0 563.9h0M697.1 459.0h0M713.8 405.9h0M620.1 608.0h0M675.7 585.8h0M683.4 584.2h0M699.3 489.4h0M701.5 520.7h0M665.4 577.3h0M661.0 609.5h0M628.3 603.7h0M659.4 611.3h0M668.1 552.9h0M632.8 586.9h0M658.2 616.9h0M732.3 452.1h0M607.0 568.6h0M628.4 613.8h0M617.5 545.0h0M662.2 618.9h0M625.5 588.5h0M624.7 564.0h0M649.9 632.8h0M672.9 558.2h0M653.3 614.5h0M637.5 609.5h0M608.9 590.3h0M631.1 586.5h0M673.5 544.5h0M675.1 549.2h0M722.6 396.5h0M586.3 517.0h0M667.0 571.6h0M661.4 604.9h0M645.8 634.5h0M640.9 625.5h0M651.3 631.9h0M639.6 625.9h0M644.7 630.3h0M635.8 596.4h0M614.9 546.9h0M655.5 618.8h0M623.2 554.5h0M671.4 577.9h0M627.4 576.9h0M635.4 596.4h0M664.1 585.5h0M673.8 538.3h0M708.5 419.6h0M664.7 600.9h0M607.2 544.1h0M659.8 600.3h0M726.5 477.2h0M664.7 588.6h0M716.2 486.7h0M579.0 411.2h0M603.9 500.1h0M677.0 525.4h0M599.8 564.2h0M625.7 616.0h0M658.3 602.1h0M642.2 620.9h0M682.6 519.6h0M676.8 574.1h0M663.9 590.3h0M624.9 558.6h0M641.1 632.7h0M656.1 611.4h0M675.7 577.0h0M682.6 533.5h0M646.6 635.3h0M547.4 338.5h0M668.4 552.6h0M643.1 628.7h0M651.5 631.5h0M655.0 619.8h0M637.5 611.6h0M542.9 294.0h0M630.0 584.7h0M609.0 520.5h0M642.2 632.9h0M638.5 609.1h0M650.3 625.5h0M632.9 610.2h0M652.9 615.2h0M634.1 623.0h0M674.9 531.7h0M689.1 527.7h0M722.8 425.1h0M626.3 611.0h0M653.2 631.6h0M628.3 605.6h0M627.2 575.4h0M637.7 620.7h0M656.1 604.3h0M661.6 578.9h0M727.3 397.4h0M564.7 372.1h0M626.5 569.9h0M649.5 623.2h0M659.4 591.9h0M694.7 560.7h0M659.8 600.7h0M575.2 432.4h0M692.3 474.8h0M656.9 616.4h0M633.7 606.6h0M641.1 626.7h0M623.8 610.4h0M663.1 589.2h0M670.9 593.5h0M655.8 618.9h0M657.1 617.0h0M659.9 623.2h0M638.1 617.3h0M617.8 566.4h0M549.3 312.1h0M639.4 616.3h0M576.5 415.9h0M623.6 554.4h0M652.9 630.6h0M643.2 624.4h0M628.1 597.3h0M607.0 512.3h0M616.2 536.9h0M636.8 624.1h0M627.1 577.9h0M632.4 599.6h0M667.8 567.2h0M649.8 633.5h0M631.2 582.8h0M651.2 617.6h0M666.5 605.2h0M653.6 627.4h0M631.8 589.3h0M635.7 598.7h0M650.5 626.3h0M669.2 589.4h0M686.6 563.0h0M633.8 616.5h0M636.3 605.1h0M611.0 538.9h0M654.3 617.9h0M642.7 630.4h0M662.5 610.0h0M685.7 493.1h0M678.4 578.0h0M710.1 416.1h0M645.1 634.8h0M604.1 508.0h0M653.9 609.8h0M571.6 491.8h0M542.7 362.3h0M635.4 606.2h0M658.3 620.8h0M693.4 508.3h0M664.5 570.6h0M636.7 616.3h0M593.4 491.2h0M650.4 620.3h0M639.8 625.5h0M630.1 595.6h0M638.9 616.6h0M719.7 414.5h0M643.4 633.4h0M653.8 606.5h0M666.8 584.8h0M610.9 507.6h0M678.2 590.1h0M716.0 511.1h0M639.7 616.1h0M636.0 601.8h0M664.4 588.2h0M642.7 626.0h0M697.4 512.8h0M645.1 632.6h0M653.6 606.8h0M655.0 626.6h0M671.5 554.5h0M660.1 622.1h0M693.7 474.1h0M625.9 562.8h0M665.6 583.1h0M629.0 579.9h0M611.2 508.9h0M590.2 458.5h0M675.8 585.0h0M602.7 547.7h0M603.4 493.3h0M654.1 619.8h0M651.9 625.4h0M667.2 588.1h0M689.3 620.9h0M640.3 620.5h0M664.1 602.4h0M642.6 623.1h0M621.1 564.0h0M642.8 630.9h0M620.0 575.7h0M639.7 619.7h0M672.9 546.2h0M626.5 611.5h0M631.7 608.2h0M630.3 576.4h0M642.8 623.9h0M621.4 599.7h0M671.3 554.0h0M662.7 620.9h0M595.8 478.4h0M656.8 608.8h0M622.5 577.9h0M661.6 587.2h0M614.7 559.0h0M638.5 613.0h0M739.1 385.6h0M586.8 456.0h0M633.0 631.7h0M650.9 625.8h0M670.3 576.8h0M658.8 589.6h0M605.2 490.8h0M558.4 373.4h0M648.9 632.6h0M589.2 449.3h0M650.1 627.1h0M676.5 563.8h0M689.6 482.9h0M676.7 577.9h0M656.8 627.0h0M637.8 624.8h0M652.4 622.1h0M653.2 621.4h0M659.0 605.6h0M637.9 630.4h0M652.5 610.5h0M698.9 506.5h0M652.0 619.3h0M696.5 517.9h0M639.3 611.5h0M643.4 632.1h0M661.8 626.0h0M754.2 410.8h0M658.3 605.1h0M643.6 631.8h0M659.6 590.7h0M649.6 625.1h0M657.9 616.4h0M671.8 572.0h0M653.3 616.9h0M648.9 627.5h0M564.9 443.4h0M666.1 572.3h0M669.5 596.1h0M650.9 629.8h0M600.2 485.7h0M675.6 525.6h0M624.1 578.2h0M668.6 562.4h0M643.2 633.8h0M644.0 628.4h0M700.3 454.8h0M598.7 535.7h0M626.5 592.6h0M657.4 601.5h0M665.4 570.9h0M592.9 451.3h0M614.5 527.2h0M694.1 499.4h0M643.1 628.3h0M660.9 603.0h0M664.2 584.3h0M633.1 586.5h0M627.9 598.7h0M619.0 535.8h0M631.0 620.8h0M611.9 513.2h0M594.0 470.9h0M670.7 553.9h0M670.2 584.9h0M669.0 558.9h0M627.3 588.6h0M640.5 614.7h0M664.0 571.4h0M698.6 458.4h0M665.2 562.9h0M646.8 635.1h0M591.9 506.6h0M615.3 557.6h0M631.0 579.8h0M623.7 562.4h0M692.7 507.8h0M617.7 549.9h0M668.2 585.9h0M632.1 617.4h0M680.6 508.2h0M629.4 584.4h0M656.9 606.1h0M657.1 593.0h0M657.9 593.9h0M605.8 567.1h0M626.0 567.0h0M662.0 588.8h0M625.8 563.1h0M671.2 574.1h0M654.8 628.4h0M669.9 562.6h0M659.5 601.6h0M685.0 536.7h0M631.7 605.9h0M661.8 626.5h0M620.7 608.1h0M536.1 403.5h0M687.3 488.8h0M692.4 511.6h0M645.4 633.7h0M685.9 550.7h0M655.6 626.9h0M638.6 621.4h0M673.7 551.3h0M629.6 593.6h0M653.2 631.6h0M665.5 609.5h0M650.7 633.0h0M637.9 613.0h0M634.5 625.3h0M697.4 553.7h0M592.2 552.7h0M646.9 634.1h0M641.1 624.9h0M593.4 479.2h0M657.1 629.3h0M650.8 630.8h0M629.6 581.9h0M661.0 579.4h0M641.5 626.0h0M638.5 625.2h0M612.4 525.5h0M683.1 569.5h0M603.5 572.6h0M651.8 619.6h0M657.7 591.4h0M602.3 536.8h0M654.5 628.0h0M710.1 524.9h0M638.9 618.3h0M604.9 516.5h0M677.0 542.6h0M625.1 574.0h0M723.6 404.7h0M685.4 577.8h0M649.8 621.0h0M749.9 406.2h0M672.0 567.9h0M659.6 605.9h0M665.6 587.4h0M609.7 578.4h0M634.7 608.9h0M679.9 541.1h0M532.3 293.8h0M597.6 509.0h0M659.8 627.8h0M609.9 531.1h0M650.4 621.6h0M639.8 626.3h0M590.4 446.5h0M565.8 445.0h0M573.0 397.1h0M606.2 502.8h0M631.5 588.0h0M641.6 629.2h0M605.6 494.6h0M652.3 621.6h0M713.5 412.7h0M669.7 575.9h0M664.2 571.6h0M632.0 606.0h0M673.2 603.3h0M624.4 590.0h0M633.8 590.8h0M623.6 581.8h0M650.7 621.8h0M667.5 617.3h0M569.1 460.3h0M572.8 420.7h0M643.0 624.6h0M610.2 585.5h0M667.9 594.9h0M642.9 623.3h0M636.5 603.0h0M654.4 611.0h0M636.2 620.5h0M661.5 579.9h0M662.2 599.5h0M628.4 589.6h0M668.9 565.6h0M636.0 608.9h0M614.2 551.7h0M671.0 566.2h0M712.3 512.9h0M630.0 608.1h0M636.2 611.6h0M650.4 626.8h0M638.5 627.0h0M619.6 546.8h0M612.6 520.6h0M619.7 594.6h0M614.2 588.3h0M617.8 540.9h0M672.2 550.5h0M657.2 593.9h0M628.9 609.4h0M693.0 467.8h0M639.1 617.8h0M675.6 580.8h0M665.0 572.9h0M666.5 581.7h0M653.6 620.4h0M634.3 593.6h0M642.4 627.7h0M704.4 487.1h0M628.6 570.9h0M653.1 623.3h0M646.7 632.5h0M627.3 585.6h0M669.6 572.8h0M643.4 628.4h0M651.4 632.5h0M607.4 518.0h0M610.1 549.5h0M582.6 438.4h0M598.1 467.9h0M658.1 632.4h0M633.6 620.2h0M707.1 477.5h0M614.7 566.2h0M649.8 621.6h0M640.4 619.4h0M622.4 584.9h0M624.3 615.4h0M650.0 634.6h0M636.5 612.0h0M550.9 392.7h0M642.8 630.0h0M699.2 481.1h0M616.4 587.4h0M618.9 547.4h0M653.8 610.2h0M632.3 585.4h0M694.4 470.5h0M682.7 513.7h0M651.3 617.5h0M695.7 553.4h0M590.2 493.8h0M683.5 508.3h0M724.6 409.1h0M588.5 440.1h0M655.0 607.4h0M694.3 509.0h0M597.1 558.5h0M619.0 571.4h0M661.8 598.5h0M640.0 621.1h0M640.3 615.5h0M638.0 606.5h0M653.4 613.7h0M631.4 581.5h0M665.9 581.8h0M714.0 478.5h0M615.0 529.1h0M602.8 488.8h0M640.7 626.0h0M673.8 533.4h0M654.1 615.9h0M709.9 414.4h0M626.2 586.3h0M671.2 546.3h0M606.7 552.1h0M629.5 592.6h0M629.7 609.8h0M628.5 572.1h0M626.6 570.2h0M677.9 562.1h0M686.6 514.9h0M725.6 475.4h0M717.4 434.3h0M634.8 592.7h0M621.7 587.4h0M649.6 624.8h0M605.0 576.9h0M657.7 635.1h0M658.1 608.7h0M633.0 606.6h0M660.7 612.4h0M664.4 574.2h0M636.4 612.5h0M712.0 423.2h0M547.1 389.9h0M709.9 435.3h0M622.3 553.2h0M669.8 547.3h0M663.2 573.7h0M618.0 573.4h0M640.3 615.8h0M650.2 625.4h0M643.3 631.9h0M707.2 512.5h0M654.4 609.5h0M660.7 623.2h0M637.6 603.7h0M631.4 604.9h0M630.6 602.4h0M634.0 591.5h0M546.5 302.1h0M584.0 442.8h0M724.2 369.3h0M648.6 635.0h0M565.4 479.1h0M663.5 592.6h0M649.8 632.6h0M639.3 609.7h0M651.5 622.4h0M659.9 616.3h0M646.9 634.9h0M664.2 604.1h0M636.1 601.7h0M603.8 482.4h0M663.9 584.3h0M557.8 430.7h0M705.2 508.9h0M691.5 513.5h0M598.8 571.8h0M666.0 577.8h0M685.7 503.6h0M649.7 631.2h0M640.7 627.5h0M635.0 597.7h0M621.8 573.1h0M672.4 555.5h0M637.7 615.5h0M619.2 545.5h0M632.7 585.0h0M683.2 519.4h0M603.0 534.0h0M634.5 621.5h0M653.7 621.4h0M655.3 606.7h0M650.9 618.4h0M695.2 571.9h0M653.3 629.4h0M629.9 590.9h0M583.9 432.4h0M644.0 631.7h0M599.6 484.9h0M622.5 547.3h0M652.2 614.2h0M703.6 431.8h0M647.1 631.0h0M630.4 577.6h0M609.8 529.1h0M640.5 617.0h0M649.4 626.6h0M652.2 621.8h0M657.9 603.9h0M660.6 596.8h0M634.4 622.8h0M609.1 513.3h0M631.8 590.1h0M686.7 566.4h0M553.7 363.2h0M654.0 611.9h0M649.1 629.3h0M655.3 616.8h0M653.0 632.0h0M683.9 513.4h0M611.0 569.8h0M709.3 490.3h0M596.5 484.9h0M633.5 603.8h0M614.7 552.7h0M669.6 573.1h0M634.6 630.0h0M638.4 619.7h0M697.9 450.3h0M589.5 435.2h0M631.3 599.8h0M653.6 614.3h0M656.2 599.8h0M659.6 598.1h0M677.9 589.4h0M624.0 564.4h0M669.2 575.3h0M641.5 627.7h0M625.6 568.3h0M652.1 612.9h0M637.7 606.0h0M668.8 566.6h0M643.9 631.3h0M618.3 543.1h0M688.6 614.7h0M634.7 617.1h0M609.1 526.8h0M655.3 615.6h0M622.3 559.2h0M642.6 628.2h0M654.5 613.9h0M638.1 607.4h0M638.4 624.6h0M639.8 623.6h0M724.9 480.0h0M613.5 570.0h0M654.0 629.7h0M682.2 509.6h0M662.6 606.7h0M650.2 635.1h0M640.0 630.2h0M696.4 501.7h0M677.9 523.6h0M659.4 596.3h0M580.6 500.0h0M657.0 607.8h0M663.9 595.1h0M637.9 608.7h0M683.5 501.4h0M605.7 541.4h0M614.7 524.6h0M653.7 625.4h0M654.1 615.9h0M608.6 541.8h0M626.8 582.5h0M657.4 612.0h0M641.9 622.5h0M563.6 414.1h0M656.4 599.4h0M654.6 608.1h0M651.0 631.3h0M600.0 504.1h0M642.3 624.3h0M604.7 549.2h0M625.7 581.5h0M685.7 522.5h0M635.2 621.0h0M646.7 632.8h0M663.8 581.1h0M702.2 475.2h0M557.3 419.4h0M635.2 598.7h0M681.3 550.7h0M612.4 545.5h0M642.1 626.0h0M629.3 613.1h0M600.3 485.4h0M638.6 619.3h0M647.3 633.1h0M631.6 593.7h0M667.4 581.5h0M669.5 606.7h0M670.5 546.5h0M582.4 507.2h0M654.1 613.5h0M632.0 582.7h0M617.1 571.4h0M603.9 560.7h0M662.2 624.4h0M682.8 544.2h0M654.7 625.4h0M640.8 622.1h0M624.9 556.8h0M643.4 635.2h0M625.9 597.2h0M670.1 600.5h0M651.1 635.0h0M658.9 595.9h0M664.1 594.7h0M644.2 629.6h0M632.9 593.1h0M647.1 630.9h0M630.3 595.7h0M635.0 612.4h0M653.1 619.1h0M665.9 575.7h0M754.0 364.7h0M684.7 508.0h0M641.2 630.9h0M634.9 597.9h0M691.4 476.2h0M671.1 598.6h0M674.1 572.4h0M705.9 488.8h0M598.7 480.0h0M635.2 597.1h0M649.3 625.8h0M581.0 426.8h0M669.1 553.0h0M622.6 550.9h0M750.2 359.6h0M648.4 630.5h0M638.3 624.5h0M645.3 632.7h0M656.2 613.7h0M671.7 562.7h0M634.5 595.9h0M676.7 572.3h0M646.9 631.9h0M659.0 606.9h0M594.6 548.5h0M647.5 632.5h0M640.3 615.6h0M656.8 601.8h0M647.9 629.5h0M578.1 473.6h0M654.0 606.2h0M598.1 487.2h0M626.3 575.3h0M643.3 625.7h0M622.6 570.7h0M648.8 634.4h0M642.3 621.2h0M665.8 602.1h0M678.9 536.9h0M690.2 485.8h0M619.8 579.8h0M610.5 513.6h0M680.9 524.4h0M611.3 509.7h0M681.5 569.4h0M637.2 625.2h0M656.4 595.7h0M643.7 627.9h0M640.2 614.9h0M622.2 556.7h0M639.0 611.2h0M690.8 534.6h0M639.2 619.1h0M654.3 605.6h0M577.6 458.3h0M651.7 614.8h0M586.2 536.6h0M646.8 635.3h0M630.4 605.8h0M624.2 630.6h0M724.1 373.2h0M613.8 535.8h0M651.8 618.9h0M631.2 586.8h0M686.5 537.1h0M672.5 552.6h0M653.3 609.0h0M673.3 578.2h0M658.8 620.1h0M651.3 618.1h0M646.5 635.0h0M621.6 556.7h0M673.3 592.5h0M573.3 442.0h0M643.3 630.1h0M672.6 552.5h0M704.9 492.9h0M644.4 632.1h0M652.8 611.7h0M650.4 635.0h0M578.7 422.2h0M640.5 632.1h0M626.6 613.0h0M650.7 627.3h0M612.7 528.0h0M654.0 605.3h0M629.5 598.9h0M654.5 622.1h0M671.6 584.2h0M642.0 632.6h0M613.5 526.7h0M662.8 608.2h0M693.8 481.9h0M666.5 611.5h0M540.6 401.8h0M578.6 467.5h0M640.1 629.8h0M629.0 620.4h0M638.4 607.8h0M617.5 541.6h0M615.9 546.7h0M726.6 377.5h0M634.4 607.9h0M649.4 626.8h0M636.1 626.3h0M638.0 632.1h0M683.0 502.2h0M706.8 518.2h0M722.1 481.2h0M624.7 618.9h0M596.4 473.2h0M661.0 580.1h0M630.2 599.1h0M668.5 571.2h0M592.6 534.3h0M650.4 624.1h0M647.6 631.2h0M692.8 580.1h0M639.6 620.0h0M679.2 523.0h0M594.2 553.9h0M657.3 604.8h0M630.9 578.0h0M665.3 574.5h0M649.5 626.6h0M628.7 574.6h0M658.1 600.4h0M705.7 527.3h0M656.9 601.3h0M659.1 603.5h0M572.3 417.7h0M634.4 618.8h0M691.3 529.4h0M706.0 446.2h0M661.2 628.0h0M660.8 628.6h0M556.4 417.8h0M629.0 582.0h0M667.0 569.6h0M599.4 569.4h0M605.7 549.0h0M634.9 623.2h0M634.0 609.8h0M647.1 631.6h0M638.0 618.3h0M628.4 575.9h0M590.8 454.1h0M675.8 550.6h0M689.3 509.5h0M685.8 517.7h0M674.5 582.1h0M627.0 594.1h0M655.3 601.9h0M681.1 542.6h0M633.6 616.6h0M655.3 602.0h0M714.3 587.0h0M613.5 517.8h0M684.3 580.7h0M730.2 384.4h0M653.2 625.7h0M663.2 570.4h0M627.3 575.6h0M647.9 632.3h0M603.6 503.2h0M656.0 609.1h0M663.5 618.8h0M675.5 554.3h0M663.8 569.5h0M644.5 631.3h0M645.3 634.0h0M648.0 628.1h0M662.3 583.7h0M655.0 630.3h0M640.9 620.8h0M699.0 534.6h0M595.8 465.8h0M726.7 477.4h0M643.1 627.8h0M672.0 595.8h0M662.8 609.7h0M676.8 546.6h0M661.1 610.4h0M538.5 405.9h0M666.0 568.6h0M600.9 522.0h0M652.4 627.4h0M631.7 592.4h0M672.6 550.5h0M671.2 575.9h0M605.1 499.2h0M635.8 626.3h0M671.4 564.7h0M596.4 460.8h0M640.1 612.5h0M670.7 574.8h0M641.2 631.7h0M607.4 557.9h0M615.4 586.5h0M650.6 620.3h0M655.3 627.7h0M571.1 397.6h0M624.5 577.8h0M641.4 630.6h0M628.0 600.2h0M665.7 573.7h0M667.5 559.5h0M655.0 624.9h0M657.8 593.3h0M679.2 568.0h0M640.3 617.9h0M695.3 463.9h0M644.1 632.7h0M672.5 586.6h0M640.2 615.2h0M722.6 379.3h0M632.1 618.8h0M673.8 535.1h0M677.1 531.6h0M622.4 568.4h0M608.4 548.2h0M621.9 552.8h0M606.6 521.1h0M624.6 590.3h0M629.3 589.3h0M658.8 589.0h0M600.1 502.8h0M650.8 619.2h0M633.1 601.8h0M676.8 563.6h0M686.2 535.3h0M636.3 598.7h0M641.1 622.2h0M668.1 559.8h0M679.8 512.3h0M662.6 586.3h0M716.6 392.4h0M664.9 572.5h0M642.3 621.0h0M624.7 567.6h0M680.6 511.8h0M637.5 632.2h0M624.4 587.8h0M650.8 621.8h0M675.9 541.5h0M650.4 625.0h0M673.6 556.3h0M658.9 600.4h0M659.0 601.3h0M678.2 548.8h0M653.8 623.4h0M630.4 594.1h0M744.6 417.1h0M634.6 594.9h0M635.0 598.9h0M609.0 560.8h0M658.3 616.6h0M652.6 614.2h0M675.4 559.3h0M649.4 624.4h0M658.7 608.4h0M635.4 607.7h0M639.3 612.5h0M633.3 589.9h0M654.4 623.6h0M638.7 634.6h0M621.7 551.9h0M588.3 485.3h0M632.5 596.5h0M639.1 615.2h0M684.4 507.6h0M652.5 619.7h0M615.4 587.6h0M638.9 609.3h0M742.7 407.2h0M656.8 611.6h0M630.5 586.3h0M678.3 564.0h0M669.5 586.3h0M648.1 627.5h0M572.9 382.6h0M651.3 632.2h0M707.9 506.3h0M652.8 632.6h0M691.7 473.0h0M650.0 622.7h0M661.8 588.4h0M645.2 633.0h0M651.4 622.7h0M616.6 553.1h0M690.3 481.6h0M625.1 561.7h0M627.6 592.4h0M656.6 597.9h0M512.3 290.4h0M610.9 507.6h0M632.8 597.5h0M614.4 532.7h0M662.0 585.5h0M648.9 627.7h0M654.2 612.2h0M669.4 593.0h0M653.4 608.6h0M642.6 628.0h0M675.1 582.6h0M636.9 633.3h0M628.5 595.8h0M660.7 600.3h0M717.8 397.4h0M743.7 434.0h0M653.3 623.2h0M662.6 608.4h0M670.5 568.4h0M673.4 545.2h0M650.7 625.7h0M651.0 631.3h0M657.2 606.6h0M646.6 633.6h0M680.6 551.0h0M617.7 541.4h0M724.4 386.1h0M582.7 429.6h0M675.6 556.4h0M605.5 523.3h0M643.7 627.6h0M628.4 578.4h0M655.0 622.9h0M674.1 548.3h0M690.7 566.8h0M595.4 526.7h0M658.4 604.3h0M655.4 623.7h0M660.8 598.1h0M635.2 612.4h0M698.9 451.0h0M627.9 596.6h0M647.5 632.2h0M621.3 559.2h0M628.7 579.2h0M639.8 624.9h0M648.0 634.0h0M625.8 626.8h0M688.7 518.9h0M689.1 493.3h0M618.9 536.7h0M639.1 612.3h0M677.6 526.7h0M631.9 586.5h0M578.4 426.4h0M655.2 600.3h0M605.2 560.2h0M653.2 622.5h0M640.0 627.0h0M701.7 548.3h0M669.5 599.3h0M629.1 597.9h0M615.4 556.4h0M672.5 566.6h0M635.3 605.7h0M623.7 557.1h0M631.4 600.5h0M589.9 526.5h0M673.1 550.6h0M713.1 454.3h0M641.2 619.7h0M635.4 600.4h0M655.1 611.8h0M694.8 485.7h0M655.5 602.1h0M672.3 583.4h0M684.1 585.2h0M637.5 611.0h0M594.4 457.6h0M576.4 512.3h0M653.9 606.4h0M733.4 431.3h0M654.8 604.3h0M671.3 562.6h0M705.4 479.2h0M621.1 571.9h0M598.5 478.2h0M655.5 608.3h0M594.9 464.4h0M658.4 590.2h0M659.1 598.7h0M601.9 554.8h0M656.8 607.7h0M659.0 586.1h0M730.8 357.7h0M663.6 571.5h0M691.4 543.3h0M639.7 614.8h0M678.2 524.1h0M665.6 563.1h0M640.3 626.6h0M638.4 618.7h0M666.1 585.5h0M639.0 613.5h0M655.1 622.7h0M661.6 607.7h0M152.1 336.1h0M296.0 483.7h0M382.7 142.8h0M440.0 182.3h0M465.9 202.2h0M475.6 229.8h0M368.6 235.4h0M493.1 244.5h0M371.8 261.6h0M489.2 266.8h0M521.6 273.8h0M444.2 275.5h0M449.8 277.3h0M517.8 279.7h0M413.0 283.5h0M457.0 287.7h0M499.3 286.9h0M452.2 364.7h0M473.9 478.0h0M444.5 572.0h0M465.7 579.8h0M473.5 576.1h0M550.8 545.4h0M507.0 419.9h0M518.0 436.7h0M526.6 433.8h0M534.0 438.7h0M494.3 369.6h0M477.6 327.9h0M785.2 341.0h0M795.0 342.9h0M782.2 346.7h0M767.1 360.7h0M769.4 382.8h0M779.2 387.3h0M756.6 386.6h0M762.6 341.4h0M768.6 344.4h0M758.8 352.0h0M752.8 359.5h0M749.5 406.0h0M758.0 417.0h0M775.0 420.0h0M770.5 441.0h0M709.5 452.8h0M710.5 456.5h0M720.0 457.0h0M762.0 546.5h0M682.0 586.5h0M727.0 547.5h0" stroke="#8a8d8d" stroke-width="6" stroke-linecap="round" fill="none"/>
<circle cx="764.5" cy="309.6" r="3.1" fill="#000"/>
<circle cx="758.5" cy="330.6" r="5.8" fill="#3b62ad"/>
<circle cx="779.2" cy="322.9" r="5.8" fill="#3b62ad"/>
<circle cx="838.6" cy="209" r="5.8" fill="#5bb45f"/>
<circle cx="842.5" cy="209.6" r="5.8" fill="#5bb45f"/>
<circle cx="826.2" cy="230.3" r="5.8" fill="#5bb45f"/>
<circle cx="812.7" cy="240.6" r="5.8" fill="#5bb45f"/>
<circle cx="790.9" cy="238.2" r="5.8" fill="#5bb45f"/>
<circle cx="787.1" cy="268.2" r="5.8" fill="#5bb45f"/>
<circle cx="788.8" cy="282.1" r="5.8" fill="#5bb45f"/>
<circle cx="785.2" cy="285.5" r="5.8" fill="#5bb45f"/>
<circle cx="837.2" cy="278.7" r="5.8" fill="#5bb45f"/>
<circle cx="783.3" cy="295.4" r="5.8" fill="#5bb45f"/>
<circle cx="792.9" cy="297.1" r="5.8" fill="#5bb45f"/>
<circle cx="800.7" cy="299.7" r="5.8" fill="#5bb45f"/>
<circle cx="818.8" cy="297.6" r="5.8" fill="#5bb45f"/>
<circle cx="815.3" cy="307.1" r="5.8" fill="#5bb45f"/>
<circle cx="820" cy="315.1" r="5.8" fill="#5bb45f"/>
<circle cx="751.1" cy="313.4" r="5.8" fill="#5bb45f"/>
<circle cx="760.2" cy="310" r="5.8" fill="#5bb45f"/>
<circle cx="779.2" cy="313.9" r="5.8" fill="#5bb45f"/>
<circle cx="792.3" cy="313.4" r="5.8" fill="#5bb45f"/>
<circle cx="837" cy="335.8" r="5.8" fill="#5bb45f"/>
<circle cx="789.8" cy="254.4" r="3.1" fill="#000"/>
<circle cx="781.6" cy="291.4" r="3.1" fill="#000"/>
<circle cx="776.4" cy="299.7" r="3.1" fill="#000"/>
<circle cx="811.5" cy="296.2" r="3.1" fill="#000"/>
<circle cx="767.8" cy="324.6" r="3.1" fill="#000"/>
<circle cx="839.8" cy="173.7" r="5.8" fill="#a67fb3"/>
<circle cx="836.3" cy="212.7" r="5.8" fill="#97101f"/>
<line x1="852.8" y1="168" x2="895.7" y2="145.6" stroke="#454a4d" stroke-width="2.1"/>
<line x1="844.2" y1="217.9" x2="897.6" y2="233.9" stroke="#454a4d" stroke-width="2.1"/>
<line x1="705.7" y1="281.2" x2="753" y2="325.1" stroke="#454a4d" stroke-width="2.1"/>
<line x1="788.1" y1="324.6" x2="835.5" y2="368" stroke="#454a4d" stroke-width="2.1"/>
<text transform="translate(899.5 151.6) scale(1 1.04)" font-size="27.2">YBX1</text>
<text transform="translate(902.5 243.5)" font-size="27.4">SidH</text>
<text transform="translate(658 271.5) scale(1 1.04)" font-size="27.3">EPRS1</text>
<text transform="translate(836.5 387.4) scale(1 1.04)" font-size="27.2">KARS1</text>
<text transform="translate(116.5 372) scale(1 1.04)" font-size="28">GFP</text>
<rect x="786.8" y="520.5" width="22.5" height="22.5" fill="none" stroke="#231f20" stroke-width="1.6"/>
<circle cx="798" cy="531.8" r="5.8" fill="#5bb45f"/>
<text transform="translate(814 545)" font-size="27.8">Ribosomal subunits</text>
<text transform="translate(22.3 362.5) rotate(-90)" font-size="28" text-anchor="middle" class="sf">-log<tspan font-size="16.5" dy="6">10</tspan><tspan dy="-6">(P value)</tspan></text>
<text transform="translate(558.6 718.6)" font-size="27.75" text-anchor="middle" class="sf">-log<tspan font-size="16.5" dy="6">2</tspan><tspan dy="-6">(Enrichment factor (GFP-SidH/GFP)</tspan></text>
</g>
<g id="pb">
<rect x="1466.2" y="499.2" width="66.2" height="116.3" fill="#8a8d8d" stroke="#050505" stroke-width="5.4"/>
<line x1="1499.3" y1="492.9" x2="1499.3" y2="499.5" stroke="#050505" stroke-width="1.6"/>
<line x1="1480.3" y1="492.9" x2="1518.3" y2="492.9" stroke="#050505" stroke-width="1.6"/>
<line x1="1480.3" y1="499.5" x2="1518.3" y2="499.5" stroke="#050505" stroke-width="1.6"/>
<circle cx="1471.7" cy="499.6" r="8.6" fill="#050505"/>
<circle cx="1499" cy="492.5" r="8.6" fill="#050505"/>
<circle cx="1526.5" cy="496.8" r="8.6" fill="#050505"/>
<rect x="1573.2" y="143" width="66.2" height="472.5" fill="#e87673" stroke="#050505" stroke-width="5.4"/>
<line x1="1606.3" y1="136.7" x2="1606.3" y2="143.5" stroke="#050505" stroke-width="1.6"/>
<line x1="1587.3" y1="136.7" x2="1625.3" y2="136.7" stroke="#050505" stroke-width="1.6"/>
<line x1="1587.3" y1="143.5" x2="1625.3" y2="143.5" stroke="#050505" stroke-width="1.6"/>
<circle cx="1578.7" cy="143.2" r="8.6" fill="#050505"/>
<circle cx="1605.9" cy="137.1" r="8.6" fill="#050505"/>
<circle cx="1633.2" cy="140" r="8.6" fill="#050505"/>
<rect x="1680.2" y="479" width="66.2" height="136.5" fill="#b9d47a" stroke="#050505" stroke-width="5.4"/>
<line x1="1713.3" y1="469.1" x2="1713.3" y2="482" stroke="#050505" stroke-width="1.6"/>
<line x1="1694.3" y1="469.1" x2="1732.3" y2="469.1" stroke="#050505" stroke-width="1.6"/>
<line x1="1694.3" y1="482" x2="1732.3" y2="482" stroke="#050505" stroke-width="1.6"/>
<circle cx="1685.7" cy="483.4" r="8.6" fill="#050505"/>
<circle cx="1712.8" cy="470.9" r="8.6" fill="#050505"/>
<circle cx="1740.2" cy="474.1" r="8.6" fill="#050505"/>
<rect x="1787.2" y="472.2" width="66.2" height="143.3" fill="#66c4ec" stroke="#050505" stroke-width="5.4"/>
<line x1="1820.3" y1="466.6" x2="1820.3" y2="471.8" stroke="#050505" stroke-width="1.6"/>
<line x1="1801.3" y1="466.6" x2="1839.3" y2="466.6" stroke="#050505" stroke-width="1.6"/>
<line x1="1801.3" y1="471.8" x2="1839.3" y2="471.8" stroke="#050505" stroke-width="1.6"/>
<circle cx="1792.8" cy="470.9" r="8.6" fill="#050505"/>
<circle cx="1819.8" cy="466.5" r="8.6" fill="#050505"/>
<circle cx="1847.5" cy="469.8" r="8.6" fill="#050505"/>
<rect x="1894.2" y="497.1" width="66.2" height="118.4" fill="#4bbfd7" stroke="#050505" stroke-width="5.4"/>
<line x1="1927.3" y1="490.5" x2="1927.3" y2="496.5" stroke="#050505" stroke-width="1.6"/>
<line x1="1908.3" y1="490.5" x2="1946.3" y2="490.5" stroke="#050505" stroke-width="1.6"/>
<line x1="1908.3" y1="496.5" x2="1946.3" y2="496.5" stroke="#050505" stroke-width="1.6"/>
<circle cx="1899.4" cy="496.8" r="8.6" fill="#050505"/>
<circle cx="1926.9" cy="492" r="8.6" fill="#050505"/>
<circle cx="1954" cy="490.8" r="8.6" fill="#050505"/>
<line x1="1428" y1="42.1" x2="1428" y2="618.3" stroke="#000" stroke-width="5.6"/>
<line x1="1403" y1="615.5" x2="1998.5" y2="615.5" stroke="#000" stroke-width="5.6"/>
<text transform="translate(1394.9 628.1) scale(1 1.05)" font-size="27.4" text-anchor="end" class="k">0</text>
<line x1="1403" y1="520.43" x2="1428" y2="520.43" stroke="#000" stroke-width="5.6"/>
<text transform="translate(1394.9 533.03) scale(1 1.05)" font-size="27.4" text-anchor="end" class="k">20</text>
<line x1="1403" y1="425.36" x2="1428" y2="425.36" stroke="#000" stroke-width="5.6"/>
<text transform="translate(1394.9 437.96) scale(1 1.05)" font-size="27.4" text-anchor="end" class="k">40</text>
<line x1="1403" y1="330.29" x2="1428" y2="330.29" stroke="#000" stroke-width="5.6"/>
<text transform="translate(1394.9 342.89) scale(1 1.05)" font-size="27.4" text-anchor="end" class="k">60</text>
<line x1="1403" y1="235.22" x2="1428" y2="235.22" stroke="#000" stroke-width="5.6"/>
<text transform="translate(1394.9 247.82) scale(1 1.05)" font-size="27.4" text-anchor="end" class="k">80</text>
<line x1="1403" y1="140.15" x2="1428" y2="140.15" stroke="#000" stroke-width="5.6"/>
<text transform="translate(1394.9 152.75) scale(1 1.05)" font-size="27.4" text-anchor="end" class="k">100</text>
<line x1="1403" y1="45.08" x2="1428" y2="45.08" stroke="#000" stroke-width="5.6"/>
<text transform="translate(1394.9 57.68) scale(1 1.05)" font-size="27.4" text-anchor="end" class="k">120</text>
<line x1="1499.1" y1="615.5" x2="1499.1" y2="639.2" stroke="#000" stroke-width="5.6"/>
<text transform="translate(1508.2 657) rotate(-45)" font-size="27.4" text-anchor="end">Control</text>
<line x1="1606.1" y1="615.5" x2="1606.1" y2="639.2" stroke="#000" stroke-width="5.6"/>
<text transform="translate(1619.5 656.6) rotate(-45)" font-size="27.4" text-anchor="end">SidH WT</text>
<line x1="1713.1" y1="615.5" x2="1713.1" y2="639.2" stroke="#000" stroke-width="5.6"/>
<text transform="translate(1722.5 657.4) rotate(-45)" font-size="27.4" text-anchor="end">SidH TM</text>
<line x1="1820.1" y1="615.5" x2="1820.1" y2="639.2" stroke="#000" stroke-width="5.6"/>
<text transform="translate(1830.5 657.5) rotate(-45)" font-size="27.4" text-anchor="end">SidH HM</text>
<line x1="1927.1" y1="615.5" x2="1927.1" y2="639.2" stroke="#000" stroke-width="5.6"/>
<text transform="translate(1937.9 657.5) rotate(-45)" font-size="27.4" text-anchor="end">SidH OM</text>
<text transform="translate(1307.6 330) rotate(-90)" font-size="27.9" text-anchor="middle">Cytotoxicity</text>
<text transform="translate(1341.1 325.3) rotate(-90)" font-size="27.9" text-anchor="middle">relative to SidH FL (%)</text>
</g>
<g id="pc">
<g clip-path="url(#c1)">
<rect x="107.6" y="1002.2" width="362.8" height="537.4" fill="url(#bg1)"/>
<ellipse cx="180" cy="1500" rx="90" ry="60" fill="#c3c3c3" opacity="0.35" filter="url(#bl30)"/>
<ellipse cx="440" cy="1520" rx="50" ry="30" fill="#c3c3c3" opacity="0.25" filter="url(#bl30)"/>
<rect x="258" y="1150" width="65" height="370" fill="url(#ln2)" filter="url(#lane)"/>
<rect x="377" y="1140" width="66" height="375" fill="url(#ln3)" filter="url(#lane)"/>
<ellipse cx="292" cy="1230" rx="36" ry="60" fill="#121212" opacity="0.1" filter="url(#bl14)"/>
<ellipse cx="275" cy="1500" rx="40" ry="28" fill="#121212" opacity="0.16" filter="url(#bl14)"/>
<ellipse cx="410" cy="1460" rx="40" ry="30" fill="#121212" opacity="0.08" filter="url(#bl14)"/>
<ellipse cx="350" cy="1330" rx="9" ry="95" fill="#acacac" opacity="0.45" filter="url(#bl9)"/>
<ellipse cx="456" cy="1330" rx="7" ry="90" fill="#a6a6a6" opacity="0.3" filter="url(#bl9)"/>
<ellipse cx="250" cy="1508" rx="14" ry="34" transform="rotate(28 250 1508)" fill="#121212" opacity="0.16" filter="url(#bl9)"/>
<rect x="140" y="1226" width="60" height="6" fill="#121212" opacity="0.1" filter="url(#bl9)"/>
<ellipse cx="151.7" cy="1118.5" rx="2.6" ry="2.2" fill="#000" opacity="0.95" filter="url(#bl1)"/>
<ellipse cx="342.6" cy="1282.1" rx="1.4" ry="1.4" fill="#000" opacity="0.9"/>
<ellipse cx="342.4" cy="1428" rx="1.5" ry="1.5" fill="#000" opacity="0.9"/>
<ellipse cx="276.8" cy="1532.6" rx="1.7" ry="1.7" fill="#000" opacity="0.9"/>
<ellipse cx="390" cy="1450" rx="3" ry="3" fill="#000" opacity="0.5" filter="url(#bl1)"/>
<ellipse cx="267" cy="1232.5" rx="5" ry="2.5" fill="#000" opacity="0.35" filter="url(#bl1)"/>
<ellipse cx="453" cy="1244" rx="5" ry="2.5" fill="#000" opacity="0.4" filter="url(#bl1)"/>
</g>
<rect x="107.6" y="1002.2" width="362.8" height="537.4" fill="none" stroke="#232528" stroke-width="2.2"/>
<g clip-path="url(#c2)">
<rect x="107.6" y="1547.7" width="362.8" height="165.4" fill="url(#bg2)"/>
<ellipse cx="218" cy="1648" rx="30" ry="20" fill="#b7b7b7" opacity="0.22" filter="url(#bl14)"/>
<rect x="366" y="1574.5" width="68" height="5.5" fill="#3e3e3e" opacity="0.6" filter="url(#bl3)"/>
<rect x="100" y="1540" width="380" height="16" fill="#121212" opacity="0.12" filter="url(#bl9)"/>
<ellipse cx="369.5" cy="1694.4" rx="3" ry="2" fill="#1d1d1d" opacity="0.7" filter="url(#bl1)"/>
</g>
<rect x="107.6" y="1547.7" width="362.8" height="165.4" fill="none" stroke="#232528" stroke-width="2.2"/>
<g clip-path="url(#c3)">
<rect x="107.6" y="1721.2" width="362.8" height="147.8" fill="url(#bg3)"/>
<path d="M131 1805.5C150 1807,180 1813.5,212 1812" fill="none" stroke="#121212" stroke-width="7.5" stroke-linecap="round" opacity="0.78" filter="url(#bl3)"/>
<path d="M129 1806C150 1808,180 1815,214 1813" fill="none" stroke="#121212" stroke-width="20" stroke-linecap="round" opacity="0.22" filter="url(#bl5)"/>
<path d="M247 1813C270 1817,318 1814,339 1806" fill="none" stroke="#121212" stroke-width="11.5" stroke-linecap="round" opacity="0.84" filter="url(#bl3)"/>
<path d="M245 1814C270 1819,318 1815,341 1806" fill="none" stroke="#121212" stroke-width="26" stroke-linecap="round" opacity="0.28" filter="url(#bl5)"/>
<path d="M367 1809.5C390 1814.5,420 1813.5,443 1811" fill="none" stroke="#121212" stroke-width="6.5" stroke-linecap="round" opacity="0.95" filter="url(#bl3)"/>
<path d="M365 1810C390 1815,420 1814,445 1811" fill="none" stroke="#121212" stroke-width="20" stroke-linecap="round" opacity="0.22" filter="url(#bl5)"/>
<ellipse cx="290" cy="1850" rx="50" ry="14" fill="#efefef" opacity="0.35" filter="url(#bl14)"/>
<ellipse cx="120" cy="1790" rx="10" ry="60" fill="#c9c9c9" opacity="0.25" filter="url(#bl14)"/>
<ellipse cx="446.9" cy="1836.5" rx="9.5" ry="5.5" fill="#000" opacity="1" filter="url(#bl1)"/>
</g>
<rect x="107.6" y="1721.2" width="362.8" height="147.8" fill="none" stroke="#232528" stroke-width="2.2"/>
<line x1="95.5" y1="1025.3" x2="105.8" y2="1025.3" stroke="#231f20" stroke-width="3.2"/>
<text transform="translate(88 1036.4) scale(1 1.05)" font-size="27.5" text-anchor="end">180</text>
<line x1="95.5" y1="1065.7" x2="105.8" y2="1065.7" stroke="#231f20" stroke-width="3.2"/>
<text transform="translate(88 1077.6) scale(1 1.05)" font-size="27.5" text-anchor="end">130</text>
<line x1="95.5" y1="1116.5" x2="105.8" y2="1116.5" stroke="#231f20" stroke-width="3.2"/>
<text transform="translate(88 1128.4) scale(1 1.05)" font-size="27.5" text-anchor="end">95</text>
<line x1="95.5" y1="1154.7" x2="105.8" y2="1154.7" stroke="#231f20" stroke-width="3.2"/>
<text transform="translate(88 1166.1) scale(1 1.05)" font-size="27.5" text-anchor="end">72</text>
<line x1="95.5" y1="1204.1" x2="105.8" y2="1204.1" stroke="#231f20" stroke-width="3.2"/>
<text transform="translate(88 1216.6) scale(1 1.05)" font-size="27.5" text-anchor="end">55</text>
<line x1="95.5" y1="1253" x2="105.8" y2="1253" stroke="#231f20" stroke-width="3.2"/>
<text transform="translate(88 1265.5) scale(1 1.05)" font-size="27.5" text-anchor="end">43</text>
<line x1="95.5" y1="1308.5" x2="105.8" y2="1308.5" stroke="#231f20" stroke-width="3.2"/>
<text transform="translate(88 1321.4) scale(1 1.05)" font-size="27.5" text-anchor="end">34</text>
<line x1="95.5" y1="1353.8" x2="105.8" y2="1353.8" stroke="#231f20" stroke-width="3.2"/>
<text transform="translate(88 1367.2) scale(1 1.05)" font-size="27.5" text-anchor="end">26</text>
<line x1="95.5" y1="1414.5" x2="105.8" y2="1414.5" stroke="#231f20" stroke-width="3.2"/>
<text transform="translate(88 1426.9) scale(1 1.05)" font-size="27.5" text-anchor="end">17</text>
<line x1="95.5" y1="1502.7" x2="105.8" y2="1502.7" stroke="#231f20" stroke-width="3.2"/>
<text transform="translate(88 1514.6) scale(1 1.05)" font-size="27.5" text-anchor="end">10</text>
<line x1="95.5" y1="1580.7" x2="105.8" y2="1580.7" stroke="#231f20" stroke-width="3.2"/>
<text transform="translate(91.2 1585.7) scale(1 1.05)" font-size="27.5" text-anchor="end">250</text>
<line x1="95.5" y1="1603.9" x2="105.8" y2="1603.9" stroke="#231f20" stroke-width="3.2"/>
<text transform="translate(91.2 1620.9) scale(1 1.05)" font-size="27.5" text-anchor="end">180</text>
<line x1="95.5" y1="1640.6" x2="105.8" y2="1640.6" stroke="#231f20" stroke-width="3.2"/>
<text transform="translate(91.2 1654.8) scale(1 1.05)" font-size="27.5" text-anchor="end">130</text>
<line x1="95.5" y1="1690.1" x2="105.8" y2="1690.1" stroke="#231f20" stroke-width="3.2"/>
<text transform="translate(91.2 1703.8) scale(1 1.05)" font-size="27.5" text-anchor="end">95</text>
<line x1="95.5" y1="1745.7" x2="105.8" y2="1745.7" stroke="#231f20" stroke-width="3.2"/>
<text transform="translate(91.2 1757.2) scale(1 1.05)" font-size="27.5" text-anchor="end">72</text>
<line x1="95.5" y1="1807.3" x2="105.8" y2="1807.3" stroke="#231f20" stroke-width="3.2"/>
<text transform="translate(91.2 1818.5) scale(1 1.05)" font-size="27.5" text-anchor="end">55</text>
<line x1="95.5" y1="1842.9" x2="105.8" y2="1842.9" stroke="#231f20" stroke-width="3.2"/>
<text transform="translate(91.2 1855.3) scale(1 1.05)" font-size="27.5" text-anchor="end">43</text>
<text transform="translate(297 870.2)" font-size="27.8" text-anchor="middle">HEK cells stably expressing</text>
<text transform="translate(297 902.9)" font-size="27.8" text-anchor="middle">SidH WT</text>
<line x1="153.7" y1="918.2" x2="432" y2="918.2" stroke="#231f20" stroke-width="3.8"/>
<text transform="translate(68.7 953.4) scale(1 1.04)" font-size="27.6" text-anchor="middle">MW</text>
<text transform="translate(69 988)" font-size="28.2" text-anchor="middle">(kDa)</text>
<text transform="translate(171 954.2) scale(1 1.05)" font-size="27.5" text-anchor="middle">-</text>
<text transform="translate(293.8 954.2) scale(1 1.05)" font-size="27.5" text-anchor="middle">-</text>
<text transform="translate(412.3 954.2) scale(1 1.05)" font-size="27.5" text-anchor="middle">+</text>
<text transform="translate(170.3 998.2) scale(1 1.05)" font-size="27.5" text-anchor="middle">-</text>
<text transform="translate(292.2 998.2) scale(1 1.05)" font-size="27.5" text-anchor="middle">+</text>
<text transform="translate(412.3 998.2) scale(1 1.05)" font-size="27.5" text-anchor="middle">+</text>
<text transform="translate(471.5 951.3)" font-size="27.5">Dox</text>
<text transform="translate(471.5 994.9)" font-size="27.5">Puro</text>
<text transform="translate(474.5 1525.2)" font-size="27.5">anti-Puro</text>
<text transform="translate(474.5 1694.5)" font-size="27.5">anti-GFP</text>
<text transform="translate(474.5 1853.6)" font-size="27.5">anti-Tub</text>
</g>
<g id="pd">
<rect x="799.2" y="989.7" width="54.2" height="420.2" fill="#050505" stroke="#050505" stroke-width="2.5"/>
<circle cx="805.4" cy="992.3" r="7" fill="#050505"/>
<circle cx="826.5" cy="987.7" r="7" fill="#050505"/>
<circle cx="848.3" cy="990.1" r="7" fill="#050505"/>
<rect x="969" y="983.8" width="54.2" height="426.1" fill="#ee3136" stroke="#050505" stroke-width="2.5"/>
<line x1="996.1" y1="976.3" x2="996.1" y2="983.8" stroke="#050505" stroke-width="2.3"/>
<line x1="980.6" y1="976.3" x2="1011.6" y2="976.3" stroke="#050505" stroke-width="2.3"/>
<circle cx="974.4" cy="986.2" r="7" fill="#050505"/>
<circle cx="996.1" cy="976" r="7" fill="#050505"/>
<circle cx="1017.3" cy="983.5" r="7" fill="#050505"/>
<rect x="1053.6" y="988.9" width="54.2" height="421" fill="#f9cd77" stroke="#050505" stroke-width="2.5"/>
<line x1="1080.7" y1="982.3" x2="1080.7" y2="988.9" stroke="#050505" stroke-width="2.3"/>
<line x1="1065.2" y1="982.3" x2="1096.2" y2="982.3" stroke="#050505" stroke-width="2.3"/>
<circle cx="1059.5" cy="991.7" r="7" fill="#050505"/>
<circle cx="1080.6" cy="981.1" r="7" fill="#050505"/>
<circle cx="1101.8" cy="990.7" r="7" fill="#050505"/>
<rect x="1138.2" y="984.3" width="54.2" height="425.6" fill="#e68cb6" stroke="#050505" stroke-width="2.5"/>
<line x1="1165.3" y1="973" x2="1165.3" y2="984.3" stroke="#050505" stroke-width="2.3"/>
<line x1="1149.8" y1="973" x2="1180.8" y2="973" stroke="#050505" stroke-width="2.3"/>
<circle cx="1151.6" cy="976" r="7" fill="#050505"/>
<circle cx="1178.7" cy="978.1" r="7" fill="#050505"/>
<circle cx="1165.2" cy="994.1" r="7" fill="#050505"/>
<line x1="770" y1="957.8" x2="770" y2="1412.7" stroke="#000" stroke-width="5.6"/>
<line x1="750.1" y1="1409.9" x2="1222" y2="1409.9" stroke="#000" stroke-width="5.6"/>
<text transform="translate(743.2 1421.2) scale(1 1.05)" font-size="27.4" text-anchor="end">0</text>
<line x1="750.1" y1="1268.9" x2="770" y2="1268.9" stroke="#000" stroke-width="5.6"/>
<text transform="translate(743.2 1280.2) scale(1 1.05)" font-size="27.4" text-anchor="end">0.5</text>
<line x1="750.1" y1="1127.9" x2="770" y2="1127.9" stroke="#000" stroke-width="5.6"/>
<text transform="translate(743.2 1139.2) scale(1 1.05)" font-size="27.4" text-anchor="end">1.0</text>
<line x1="750.1" y1="986.9" x2="770" y2="986.9" stroke="#000" stroke-width="5.6"/>
<text transform="translate(743.2 998.2) scale(1 1.05)" font-size="27.4" text-anchor="end">1.5</text>
<line x1="826.3" y1="1409.9" x2="826.3" y2="1429.6" stroke="#000" stroke-width="5.6"/>
<text transform="translate(835.3 1449) rotate(-45)" font-size="27.4" text-anchor="end">Buffer</text>
<line x1="910.8" y1="1409.9" x2="910.8" y2="1429.6" stroke="#000" stroke-width="5.6"/>
<text transform="translate(926.8 1449.5) rotate(-45)" font-size="27.4" text-anchor="end">SidI</text>
<line x1="996.1" y1="1409.9" x2="996.1" y2="1429.6" stroke="#000" stroke-width="5.6"/>
<text transform="translate(1003.3 1448) rotate(-45)" font-size="27.4" text-anchor="end">SidH WT</text>
<line x1="1080.7" y1="1409.9" x2="1080.7" y2="1429.6" stroke="#000" stroke-width="5.6"/>
<text transform="translate(1086.2 1447.7) rotate(-45)" font-size="27.4" text-anchor="end">SidH HM</text>
<line x1="1165.3" y1="1409.9" x2="1165.3" y2="1429.6" stroke="#000" stroke-width="5.6"/>
<text transform="translate(1185.6 1454.8) rotate(-45)" font-size="27.4" text-anchor="end">SidH<tspan font-size="17" dy="-9.5">paris</tspan></text>
<circle cx="897.1" cy="1409.8" r="7" fill="#050505"/>
<circle cx="924.6" cy="1408.3" r="7" fill="#050505"/>
<text transform="translate(683 1209) rotate(-90)" font-size="27.4" text-anchor="middle">Absorbance (420nm)</text>
<text transform="translate(1003 899)" font-size="28" text-anchor="middle">In vitro translation of</text>
<text transform="translate(1006 932.2)" font-size="28" text-anchor="middle">b-galactosidase</text>
</g>
<g id="pe">
<line x1="1392.7" y1="980.1" x2="1392.7" y2="1383.9" stroke="#000" stroke-width="4.4"/>
<line x1="1375.6" y1="1381.7" x2="1986.4" y2="1381.7" stroke="#000" stroke-width="4.4"/>
<text transform="translate(1371 1392) scale(1 1.05)" font-size="27.6" text-anchor="end">0</text>
<line x1="1375.6" y1="1281.55" x2="1392.7" y2="1281.55" stroke="#000" stroke-width="4.4"/>
<text transform="translate(1371 1293.4) scale(1 1.05)" font-size="27.6" text-anchor="end">0.5</text>
<line x1="1375.6" y1="1181.4" x2="1392.7" y2="1181.4" stroke="#000" stroke-width="4.4"/>
<text transform="translate(1371 1193.7) scale(1 1.05)" font-size="27.6" text-anchor="end">1.0</text>
<line x1="1375.6" y1="1081.25" x2="1392.7" y2="1081.25" stroke="#000" stroke-width="4.4"/>
<text transform="translate(1371 1093.7) scale(1 1.05)" font-size="27.6" text-anchor="end">1.5</text>
<line x1="1375.6" y1="982.3" x2="1392.7" y2="982.3" stroke="#000" stroke-width="4.4"/>
<text transform="translate(1371 990.1) scale(1 1.05)" font-size="27.6" text-anchor="end">2.0</text>
<line x1="1392.7" y1="1381.7" x2="1392.7" y2="1397.7" stroke="#000" stroke-width="4.4"/>
<text transform="translate(1392.7 1423) scale(1 1.05)" font-size="27.6" text-anchor="middle">0</text>
<line x1="1540.6" y1="1381.7" x2="1540.6" y2="1397.7" stroke="#000" stroke-width="4.4"/>
<text transform="translate(1540.6 1423) scale(1 1.05)" font-size="27.6" text-anchor="middle">50</text>
<line x1="1688.5" y1="1381.7" x2="1688.5" y2="1397.7" stroke="#000" stroke-width="4.4"/>
<text transform="translate(1688.5 1423) scale(1 1.05)" font-size="27.6" text-anchor="middle">100</text>
<line x1="1836.4" y1="1381.7" x2="1836.4" y2="1397.7" stroke="#000" stroke-width="4.4"/>
<text transform="translate(1836.4 1423) scale(1 1.05)" font-size="27.6" text-anchor="middle">150</text>
<line x1="1984.3" y1="1381.7" x2="1984.3" y2="1397.7" stroke="#000" stroke-width="4.4"/>
<text transform="translate(1999.8 1423) scale(1 1.05)" font-size="27.6" text-anchor="end">200</text>
<text transform="translate(1722 1453)" font-size="27.8" text-anchor="middle">Time (mins)</text>
<text transform="translate(1316.5 1187) rotate(-90)" font-size="27.8" text-anchor="middle">Absorbance (420nm)</text>
<text transform="translate(1678.5 899.5)" font-size="27.8" text-anchor="middle">In vitro translation of</text>
<text transform="translate(1681.5 932.4)" font-size="27.8" text-anchor="middle">b-galactosidase</text>
<polyline points="1407.49,1377.69 1422.28,1377.69 1451.86,1381.7 1481.44,1380.7 1570.18,1377.69 1747.66,1377.69 1925.14,1377.69" fill="none" stroke="#e0243a" stroke-width="3.8" stroke-linejoin="round" stroke-linecap="round"/>
<path d="M1407.49 1369.11L1415.29 1383.54L1399.69 1383.54Z" fill="#000"/>
<path d="M1422.28 1369.11L1430.08 1383.54L1414.48 1383.54Z" fill="#000"/>
<path d="M1451.86 1373.12L1459.66 1387.55L1444.06 1387.55Z" fill="#000"/>
<path d="M1481.44 1372.12L1489.24 1386.55L1473.64 1386.55Z" fill="#000"/>
<path d="M1570.18 1369.11L1577.98 1383.54L1562.38 1383.54Z" fill="#000"/>
<path d="M1747.66 1369.11L1755.46 1383.54L1739.86 1383.54Z" fill="#000"/>
<path d="M1925.14 1369.11L1932.94 1383.54L1917.34 1383.54Z" fill="#000"/>
<polyline points="1407.49,1377.69 1422.28,1377.69 1451.86,1301.58 1481.44,996.52 1570.18,1002.33 1747.66,1021.16 1925.14,1021.16" fill="none" stroke="#6dbe5a" stroke-width="3.8" stroke-linejoin="round" stroke-linecap="round"/>
<path d="M1407.49 1369.69L1415.49 1377.69L1407.49 1385.69L1399.49 1377.69Z" fill="#000"/>
<path d="M1422.28 1369.69L1430.28 1377.69L1422.28 1385.69L1414.28 1377.69Z" fill="#000"/>
<path d="M1451.86 1293.58L1459.86 1301.58L1451.86 1309.58L1443.86 1301.58Z" fill="#000"/>
<path d="M1481.44 988.52L1489.44 996.52L1481.44 1004.52L1473.44 996.52Z" fill="#000"/>
<path d="M1570.18 994.33L1578.18 1002.33L1570.18 1010.33L1562.18 1002.33Z" fill="#000"/>
<path d="M1747.66 1013.16L1755.66 1021.16L1747.66 1029.16L1739.66 1021.16Z" fill="#000"/>
<path d="M1925.14 1013.16L1933.14 1021.16L1925.14 1029.16L1917.14 1021.16Z" fill="#000"/>
<polyline points="1407.49,1377.69 1422.28,1373.69 1451.86,1361.67 1481.44,1109.29 1570.18,1005.14 1747.66,1019.16 1925.14,1025.97" fill="none" stroke="#2f6db5" stroke-width="3.8" stroke-linejoin="round" stroke-linecap="round"/>
<path d="M1407.49 1386.27L1415.29 1371.84L1399.69 1371.84Z" fill="#000"/>
<path d="M1422.28 1382.27L1430.08 1367.84L1414.48 1367.84Z" fill="#000"/>
<path d="M1451.86 1370.25L1459.66 1355.82L1444.06 1355.82Z" fill="#000"/>
<path d="M1481.44 1117.87L1489.24 1103.44L1473.64 1103.44Z" fill="#000"/>
<path d="M1570.18 1013.72L1577.98 999.29L1562.38 999.29Z" fill="#000"/>
<path d="M1747.66 1027.74L1755.46 1013.31L1739.86 1013.31Z" fill="#000"/>
<path d="M1925.14 1034.55L1932.94 1020.12L1917.34 1020.12Z" fill="#000"/>
<polyline points="1407.49,1377.69 1422.28,1377.69 1451.86,1360.47 1481.44,1083.85 1570.18,1007.74 1747.66,1011.55 1925.14,1018.36" fill="none" stroke="#000" stroke-width="3.8" stroke-linejoin="round" stroke-linecap="round"/>
<rect x="1399.99" y="1370.19" width="15" height="15" fill="#000"/>
<rect x="1414.78" y="1370.19" width="15" height="15" fill="#000"/>
<rect x="1444.36" y="1352.97" width="15" height="15" fill="#000"/>
<rect x="1473.94" y="1076.35" width="15" height="15" fill="#000"/>
<rect x="1562.68" y="1000.24" width="15" height="15" fill="#000"/>
<rect x="1740.16" y="1004.05" width="15" height="15" fill="#000"/>
<rect x="1917.64" y="1010.86" width="15" height="15" fill="#000"/>
<line x1="1816" y1="1102.9" x2="1851" y2="1102.9" stroke="#000" stroke-width="3.4" stroke-linecap="round"/>
<rect x="1827.5" y="1096.9" width="12" height="12" fill="#000"/>
<text transform="translate(1856.1 1112.8)" font-size="27.8">Buffer</text>
<line x1="1816" y1="1177.9" x2="1851" y2="1177.9" stroke="#e0243a" stroke-width="3.4" stroke-linecap="round"/>
<path d="M1833.5 1171.3L1839.5 1182.4L1827.5 1182.4Z" fill="#000"/>
<text transform="translate(1856.1 1187)" font-size="27.8">SidI</text>
<line x1="1816" y1="1221.8" x2="1851" y2="1221.8" stroke="#2f6db5" stroke-width="3.4" stroke-linecap="round"/>
<path d="M1833.5 1228.4L1839.5 1217.3L1827.5 1217.3Z" fill="#000"/>
<text transform="translate(1856.1 1231)" font-size="27.8">SidH<tspan font-size="16.5" dy="-9.5">paris</tspan></text>
<line x1="1816" y1="1265.4" x2="1851" y2="1265.4" stroke="#6dbe5a" stroke-width="3.4" stroke-linecap="round"/>
<path d="M1833.5 1258.9L1840 1265.4L1833.5 1271.9L1827 1265.4Z" fill="#000"/>
<text transform="translate(1856.1 1274.5)" font-size="27.8">SidH WT</text>
</g>
<text transform="translate(0.5 24.2)" font-size="28" class="b">a</text>
<text transform="translate(1188.1 23.8)" font-size="28" class="b">b</text>
<text transform="translate(0.5 833) scale(1 1.03)" font-size="28" class="b">c</text>
<text transform="translate(674.9 833.4)" font-size="28" class="b">d</text>
<text transform="translate(1356.5 833.4) scale(1 1.05)" font-size="28" class="b">e</text>
</svg></body></html>
